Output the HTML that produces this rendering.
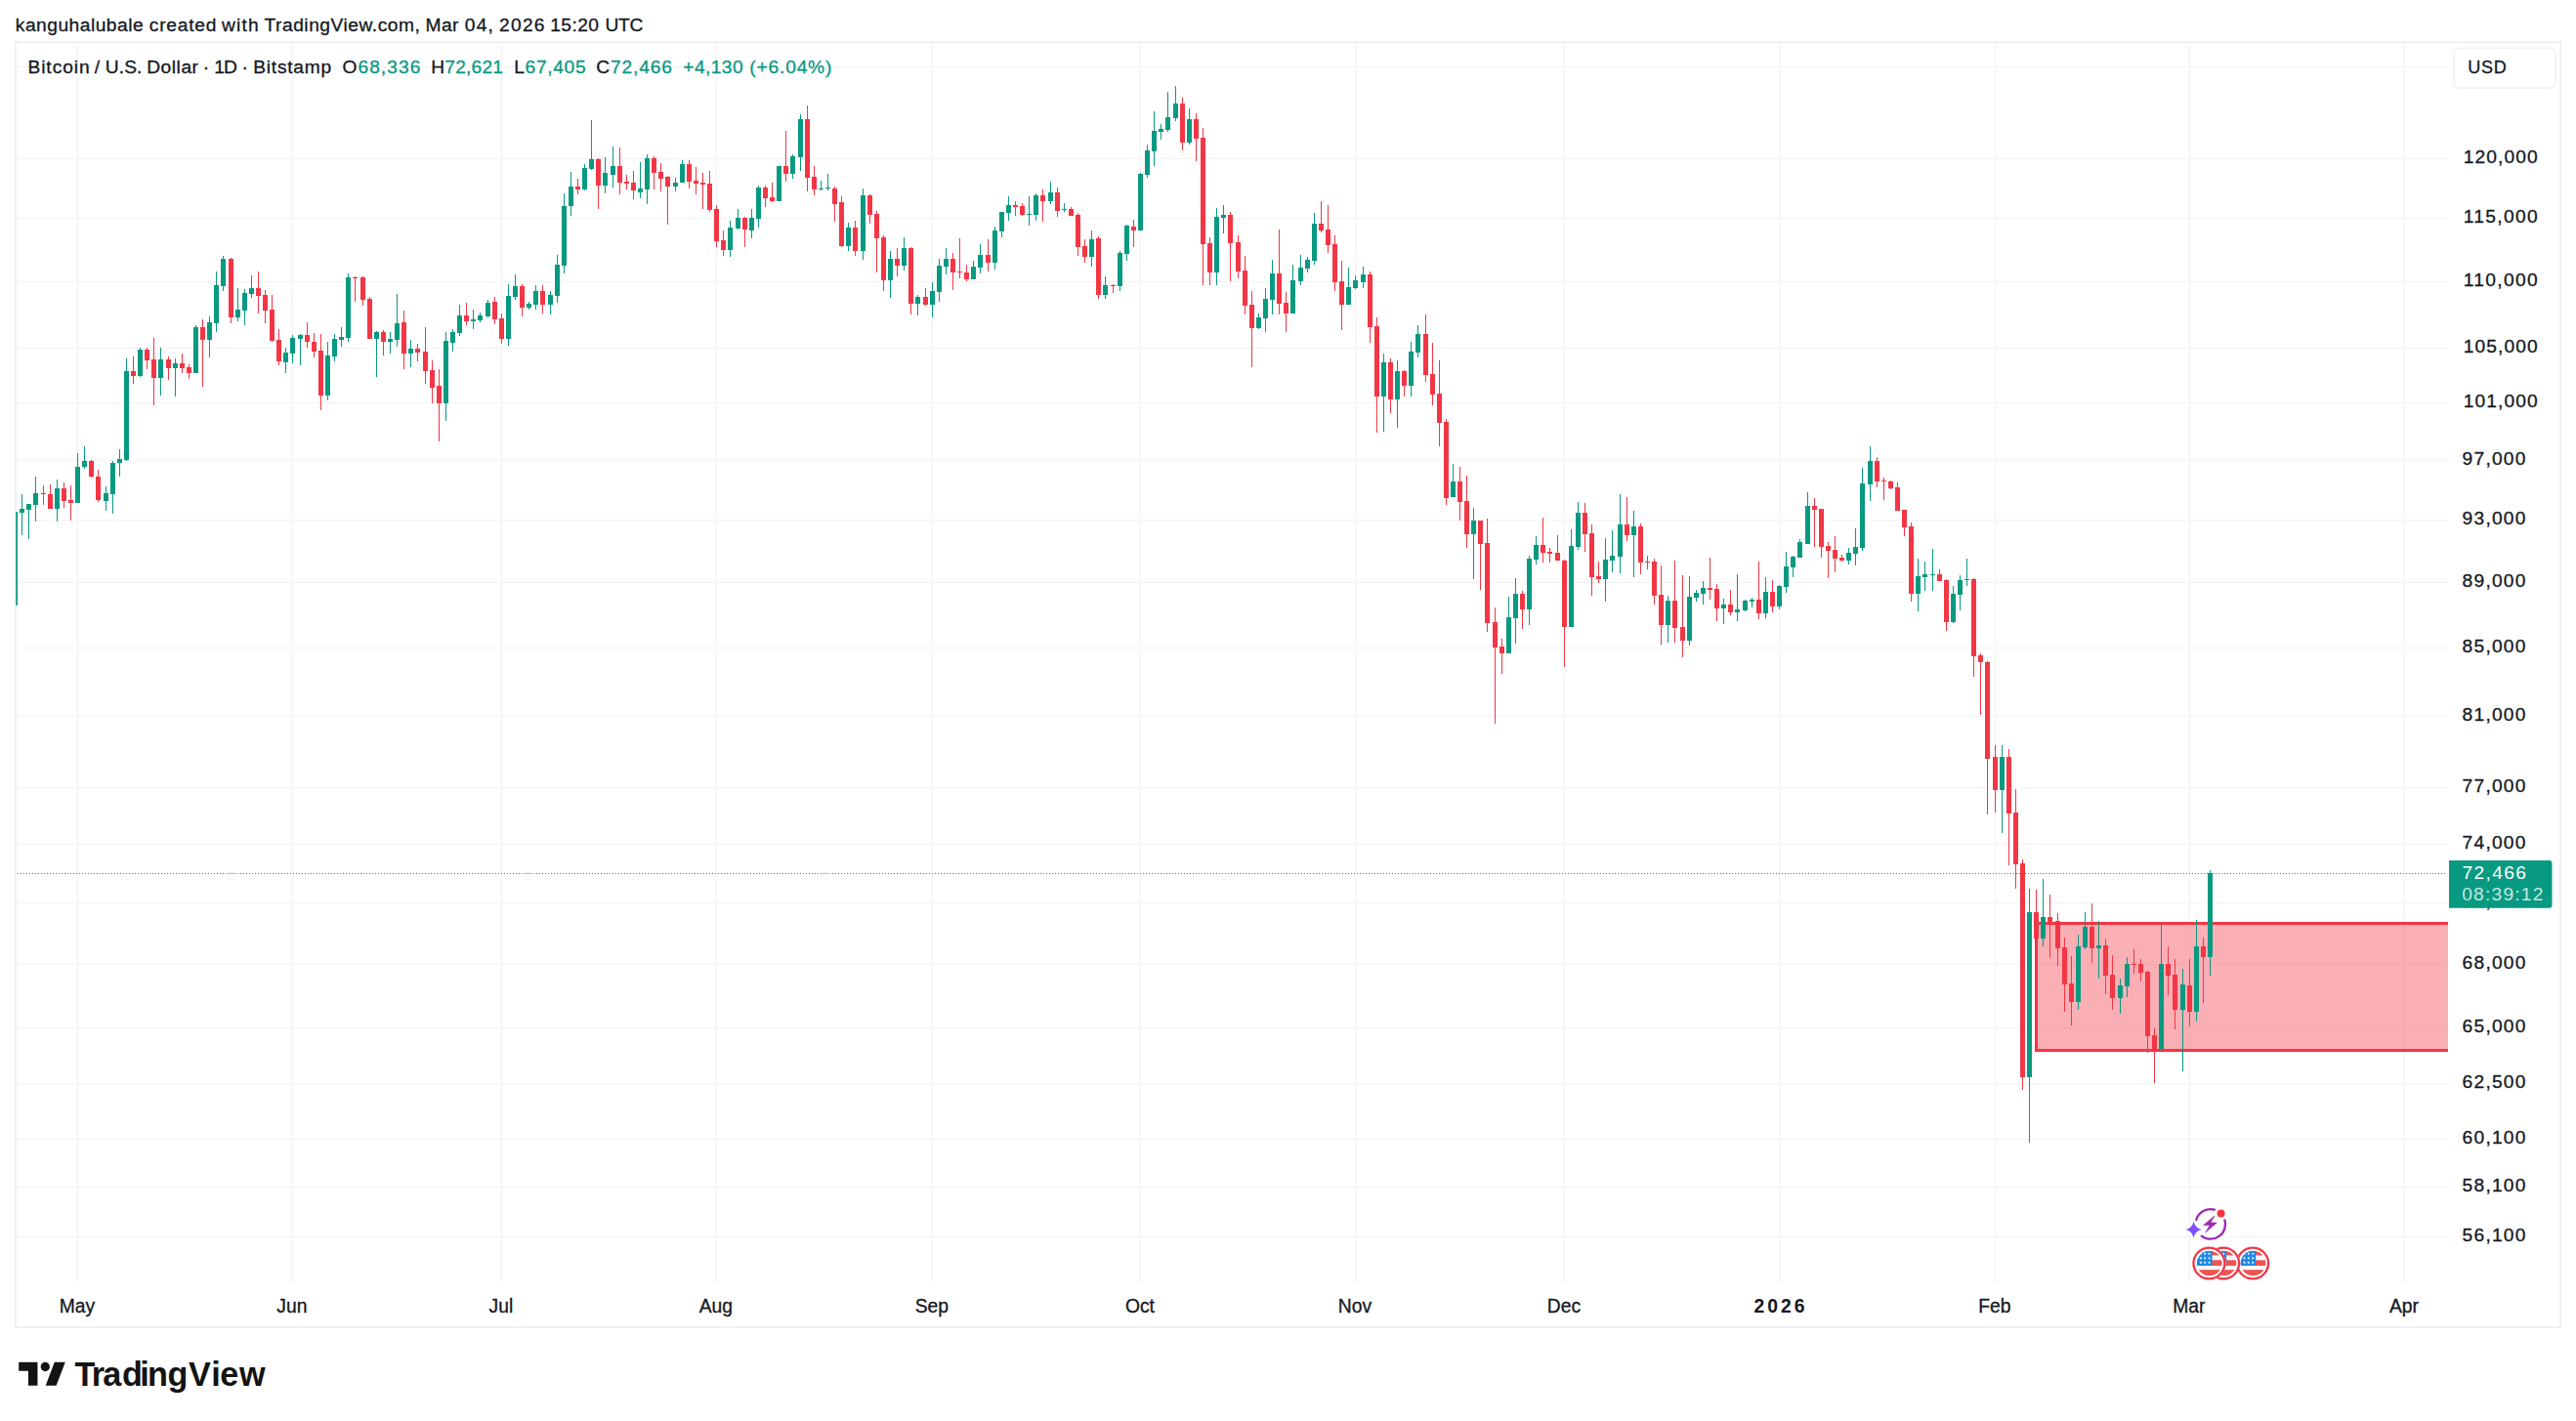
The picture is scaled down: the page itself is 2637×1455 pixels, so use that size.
<!DOCTYPE html><html><head><meta charset="utf-8"><title>BTCUSD chart</title>
<style>html,body{margin:0;padding:0;background:#fff}body{width:2637px;height:1455px;overflow:hidden}svg{display:block}text{font-family:"Liberation Sans",Arial,sans-serif;paint-order:stroke}</style></head><body>
<svg width="2637" height="1455" viewBox="0 0 2637 1455">
<rect width="2637" height="1455" fill="#fff"/>
<defs><clipPath id="pane"><rect x="16.25" y="44.00" width="2489.75" height="1269.50"/></clipPath></defs>
<rect x="16" y="43.25" width="2605.10" height="1315.65" fill="none" stroke="#efeff1" stroke-width="1.8"/>
<g shape-rendering="crispEdges" fill="#f2f2f3">
<rect x="17" y="68" width="2489" height="1"/>
<rect x="17" y="162" width="2489" height="1"/>
<rect x="17" y="223" width="2489" height="1"/>
<rect x="17" y="288" width="2489" height="1"/>
<rect x="17" y="356" width="2489" height="1"/>
<rect x="17" y="412" width="2489" height="1"/>
<rect x="17" y="471" width="2489" height="1"/>
<rect x="17" y="532" width="2489" height="1"/>
<rect x="17" y="596" width="2489" height="1"/>
<rect x="17" y="663" width="2489" height="1"/>
<rect x="17" y="733" width="2489" height="1"/>
<rect x="17" y="806" width="2489" height="1"/>
<rect x="17" y="864" width="2489" height="1"/>
<rect x="17" y="924" width="2489" height="1"/>
<rect x="17" y="987" width="2489" height="1"/>
<rect x="17" y="1052" width="2489" height="1"/>
<rect x="17" y="1109" width="2489" height="1"/>
<rect x="17" y="1166" width="2489" height="1"/>
<rect x="17" y="1215" width="2489" height="1"/>
<rect x="17" y="1266" width="2489" height="1"/>
<rect x="79" y="44" width="1" height="1270"/>
<rect x="299" y="44" width="1" height="1270"/>
<rect x="513" y="44" width="1" height="1270"/>
<rect x="733" y="44" width="1" height="1270"/>
<rect x="954" y="44" width="1" height="1270"/>
<rect x="1167" y="44" width="1" height="1270"/>
<rect x="1387" y="44" width="1" height="1270"/>
<rect x="1601" y="44" width="1" height="1270"/>
<rect x="1821" y="44" width="1" height="1270"/>
<rect x="2042" y="44" width="1" height="1270"/>
<rect x="2241" y="44" width="1" height="1270"/>
<rect x="2461" y="44" width="1" height="1270"/>
</g>
<g clip-path="url(#pane)" shape-rendering="crispEdges">
<rect x="2083" y="944" width="430" height="133" fill="rgba(242,54,69,0.4)"/>
<rect x="2083" y="944" width="430" height="3" fill="#F23645"/>
<rect x="2083" y="1074" width="430" height="3" fill="#F23645"/>
<rect x="2083" y="944" width="3" height="133" fill="#F23645"/>
<g fill="#089981"><rect x="15" y="524" width="1" height="96"/><rect x="13" y="524" width="5" height="96"/><rect x="22" y="506" width="1" height="42"/><rect x="20" y="521" width="5" height="4"/><rect x="29" y="516" width="1" height="36"/><rect x="27" y="516" width="5" height="6"/><rect x="36" y="488" width="1" height="46"/><rect x="34" y="505" width="5" height="12"/><rect x="58" y="491" width="1" height="43"/><rect x="56" y="500" width="5" height="21"/><rect x="79" y="464" width="1" height="51"/><rect x="77" y="478" width="5" height="37"/><rect x="86" y="457" width="1" height="23"/><rect x="84" y="472" width="5" height="6"/><rect x="108" y="498" width="1" height="25"/><rect x="106" y="505" width="5" height="8"/><rect x="115" y="472" width="1" height="54"/><rect x="113" y="474" width="5" height="32"/><rect x="122" y="460" width="1" height="28"/><rect x="120" y="470" width="5" height="4"/><rect x="129" y="367" width="1" height="105"/><rect x="127" y="380" width="5" height="91"/><rect x="143" y="356" width="1" height="30"/><rect x="141" y="358" width="5" height="27"/><rect x="164" y="356" width="1" height="49"/><rect x="162" y="368" width="5" height="19"/><rect x="179" y="367" width="1" height="39"/><rect x="177" y="372" width="5" height="5"/><rect x="200" y="333" width="1" height="49"/><rect x="198" y="335" width="5" height="47"/><rect x="214" y="324" width="1" height="42"/><rect x="212" y="330" width="5" height="18"/><rect x="221" y="278" width="1" height="62"/><rect x="219" y="292" width="5" height="39"/><rect x="228" y="262" width="1" height="36"/><rect x="226" y="265" width="5" height="28"/><rect x="243" y="295" width="1" height="34"/><rect x="241" y="317" width="5" height="8"/><rect x="250" y="296" width="1" height="37"/><rect x="248" y="300" width="5" height="18"/><rect x="257" y="282" width="1" height="23"/><rect x="255" y="295" width="5" height="6"/><rect x="292" y="356" width="1" height="26"/><rect x="290" y="361" width="5" height="10"/><rect x="299" y="343" width="1" height="29"/><rect x="297" y="346" width="5" height="16"/><rect x="307" y="342" width="1" height="32"/><rect x="305" y="343" width="5" height="4"/><rect x="335" y="350" width="1" height="60"/><rect x="333" y="364" width="5" height="41"/><rect x="342" y="342" width="1" height="28"/><rect x="340" y="347" width="5" height="18"/><rect x="349" y="335" width="1" height="20"/><rect x="347" y="345" width="5" height="3"/><rect x="356" y="280" width="1" height="70"/><rect x="354" y="284" width="5" height="62"/><rect x="385" y="339" width="1" height="47"/><rect x="383" y="340" width="5" height="7"/><rect x="399" y="340" width="1" height="22"/><rect x="397" y="347" width="5" height="3"/><rect x="406" y="301" width="1" height="54"/><rect x="404" y="331" width="5" height="17"/><rect x="420" y="348" width="1" height="28"/><rect x="418" y="357" width="5" height="5"/><rect x="456" y="340" width="1" height="91"/><rect x="454" y="349" width="5" height="64"/><rect x="463" y="337" width="1" height="23"/><rect x="461" y="340" width="5" height="11"/><rect x="470" y="312" width="1" height="32"/><rect x="468" y="323" width="5" height="18"/><rect x="484" y="317" width="1" height="20"/><rect x="482" y="327" width="5" height="2"/><rect x="491" y="320" width="1" height="10"/><rect x="489" y="323" width="5" height="5"/><rect x="499" y="307" width="1" height="18"/><rect x="497" y="310" width="5" height="14"/><rect x="520" y="291" width="1" height="63"/><rect x="518" y="303" width="5" height="44"/><rect x="527" y="281" width="1" height="26"/><rect x="525" y="293" width="5" height="11"/><rect x="541" y="309" width="1" height="8"/><rect x="539" y="311" width="5" height="4"/><rect x="548" y="292" width="1" height="25"/><rect x="546" y="298" width="5" height="14"/><rect x="563" y="298" width="1" height="24"/><rect x="561" y="302" width="5" height="10"/><rect x="570" y="261" width="1" height="49"/><rect x="568" y="271" width="5" height="32"/><rect x="577" y="198" width="1" height="82"/><rect x="575" y="211" width="5" height="61"/><rect x="584" y="176" width="1" height="45"/><rect x="582" y="191" width="5" height="20"/><rect x="598" y="168" width="1" height="27"/><rect x="596" y="172" width="5" height="22"/><rect x="605" y="123" width="1" height="51"/><rect x="603" y="163" width="5" height="10"/><rect x="619" y="161" width="1" height="37"/><rect x="617" y="177" width="5" height="13"/><rect x="627" y="150" width="1" height="42"/><rect x="625" y="170" width="5" height="9"/><rect x="655" y="166" width="1" height="37"/><rect x="653" y="193" width="5" height="4"/><rect x="662" y="158" width="1" height="51"/><rect x="660" y="162" width="5" height="32"/><rect x="691" y="182" width="1" height="14"/><rect x="689" y="187" width="5" height="4"/><rect x="698" y="164" width="1" height="23"/><rect x="696" y="168" width="5" height="19"/><rect x="747" y="226" width="1" height="37"/><rect x="745" y="233" width="5" height="23"/><rect x="755" y="214" width="1" height="21"/><rect x="753" y="223" width="5" height="11"/><rect x="769" y="214" width="1" height="30"/><rect x="767" y="223" width="5" height="13"/><rect x="776" y="190" width="1" height="43"/><rect x="774" y="192" width="5" height="32"/><rect x="797" y="170" width="1" height="36"/><rect x="795" y="170" width="5" height="36"/><rect x="811" y="158" width="1" height="25"/><rect x="809" y="160" width="5" height="18"/><rect x="819" y="117" width="1" height="58"/><rect x="817" y="122" width="5" height="39"/><rect x="840" y="185" width="1" height="10"/><rect x="838" y="193" width="5" height="1"/><rect x="847" y="178" width="1" height="17"/><rect x="845" y="192" width="5" height="1"/><rect x="868" y="228" width="1" height="29"/><rect x="866" y="233" width="5" height="19"/><rect x="883" y="193" width="1" height="73"/><rect x="881" y="200" width="5" height="57"/><rect x="911" y="257" width="1" height="48"/><rect x="909" y="265" width="5" height="22"/><rect x="925" y="243" width="1" height="34"/><rect x="923" y="254" width="5" height="18"/><rect x="939" y="302" width="1" height="21"/><rect x="937" y="304" width="5" height="7"/><rect x="954" y="289" width="1" height="36"/><rect x="952" y="298" width="5" height="14"/><rect x="961" y="265" width="1" height="44"/><rect x="959" y="272" width="5" height="27"/><rect x="968" y="254" width="1" height="27"/><rect x="966" y="265" width="5" height="8"/><rect x="996" y="267" width="1" height="19"/><rect x="994" y="273" width="5" height="13"/><rect x="1003" y="250" width="1" height="30"/><rect x="1001" y="261" width="5" height="13"/><rect x="1018" y="232" width="1" height="44"/><rect x="1016" y="236" width="5" height="33"/><rect x="1025" y="217" width="1" height="26"/><rect x="1023" y="217" width="5" height="20"/><rect x="1032" y="201" width="1" height="25"/><rect x="1030" y="210" width="5" height="8"/><rect x="1053" y="201" width="1" height="30"/><rect x="1051" y="219" width="5" height="1"/><rect x="1060" y="198" width="1" height="28"/><rect x="1058" y="200" width="5" height="20"/><rect x="1075" y="186" width="1" height="23"/><rect x="1073" y="197" width="5" height="9"/><rect x="1089" y="208" width="1" height="9"/><rect x="1087" y="214" width="5" height="1"/><rect x="1117" y="236" width="1" height="37"/><rect x="1115" y="245" width="5" height="18"/><rect x="1131" y="283" width="1" height="23"/><rect x="1129" y="292" width="5" height="10"/><rect x="1146" y="257" width="1" height="41"/><rect x="1144" y="259" width="5" height="34"/><rect x="1153" y="230" width="1" height="37"/><rect x="1151" y="231" width="5" height="29"/><rect x="1167" y="177" width="1" height="59"/><rect x="1165" y="178" width="5" height="58"/><rect x="1174" y="148" width="1" height="34"/><rect x="1172" y="154" width="5" height="25"/><rect x="1181" y="114" width="1" height="56"/><rect x="1179" y="134" width="5" height="21"/><rect x="1188" y="127" width="1" height="16"/><rect x="1186" y="132" width="5" height="3"/><rect x="1195" y="94" width="1" height="41"/><rect x="1193" y="120" width="5" height="13"/><rect x="1203" y="88" width="1" height="36"/><rect x="1201" y="106" width="5" height="15"/><rect x="1217" y="111" width="1" height="37"/><rect x="1215" y="122" width="5" height="24"/><rect x="1245" y="213" width="1" height="79"/><rect x="1243" y="222" width="5" height="57"/><rect x="1252" y="210" width="1" height="29"/><rect x="1250" y="220" width="5" height="3"/><rect x="1288" y="321" width="1" height="16"/><rect x="1286" y="325" width="5" height="11"/><rect x="1295" y="295" width="1" height="45"/><rect x="1293" y="306" width="5" height="20"/><rect x="1302" y="266" width="1" height="56"/><rect x="1300" y="280" width="5" height="27"/><rect x="1323" y="271" width="1" height="50"/><rect x="1321" y="287" width="5" height="34"/><rect x="1331" y="261" width="1" height="31"/><rect x="1329" y="274" width="5" height="14"/><rect x="1338" y="263" width="1" height="16"/><rect x="1336" y="266" width="5" height="9"/><rect x="1345" y="218" width="1" height="53"/><rect x="1343" y="229" width="5" height="38"/><rect x="1380" y="274" width="1" height="38"/><rect x="1378" y="294" width="5" height="18"/><rect x="1387" y="282" width="1" height="14"/><rect x="1385" y="287" width="5" height="8"/><rect x="1395" y="273" width="1" height="22"/><rect x="1393" y="281" width="5" height="8"/><rect x="1416" y="362" width="1" height="80"/><rect x="1414" y="371" width="5" height="35"/><rect x="1430" y="369" width="1" height="69"/><rect x="1428" y="380" width="5" height="29"/><rect x="1444" y="350" width="1" height="56"/><rect x="1442" y="360" width="5" height="35"/><rect x="1451" y="333" width="1" height="33"/><rect x="1449" y="342" width="5" height="19"/><rect x="1487" y="475" width="1" height="34"/><rect x="1485" y="493" width="5" height="16"/><rect x="1508" y="520" width="1" height="73"/><rect x="1506" y="533" width="5" height="14"/><rect x="1544" y="611" width="1" height="58"/><rect x="1542" y="632" width="5" height="37"/><rect x="1551" y="592" width="1" height="67"/><rect x="1549" y="608" width="5" height="25"/><rect x="1565" y="569" width="1" height="71"/><rect x="1563" y="572" width="5" height="52"/><rect x="1572" y="549" width="1" height="29"/><rect x="1570" y="558" width="5" height="15"/><rect x="1608" y="542" width="1" height="100"/><rect x="1606" y="559" width="5" height="83"/><rect x="1615" y="514" width="1" height="49"/><rect x="1613" y="525" width="5" height="35"/><rect x="1643" y="551" width="1" height="65"/><rect x="1641" y="573" width="5" height="20"/><rect x="1650" y="543" width="1" height="43"/><rect x="1648" y="569" width="5" height="5"/><rect x="1658" y="506" width="1" height="81"/><rect x="1656" y="537" width="5" height="33"/><rect x="1672" y="523" width="1" height="68"/><rect x="1670" y="539" width="5" height="9"/><rect x="1707" y="610" width="1" height="48"/><rect x="1705" y="615" width="5" height="25"/><rect x="1729" y="590" width="1" height="71"/><rect x="1727" y="611" width="5" height="45"/><rect x="1736" y="604" width="1" height="12"/><rect x="1734" y="607" width="5" height="5"/><rect x="1743" y="595" width="1" height="24"/><rect x="1741" y="602" width="5" height="6"/><rect x="1764" y="613" width="1" height="26"/><rect x="1762" y="619" width="5" height="4"/><rect x="1778" y="588" width="1" height="48"/><rect x="1776" y="624" width="5" height="3"/><rect x="1786" y="614" width="1" height="12"/><rect x="1784" y="615" width="5" height="10"/><rect x="1793" y="612" width="1" height="10"/><rect x="1791" y="614" width="5" height="2"/><rect x="1807" y="591" width="1" height="42"/><rect x="1805" y="606" width="5" height="22"/><rect x="1821" y="599" width="1" height="25"/><rect x="1819" y="600" width="5" height="21"/><rect x="1828" y="565" width="1" height="42"/><rect x="1826" y="580" width="5" height="21"/><rect x="1835" y="569" width="1" height="22"/><rect x="1833" y="570" width="5" height="11"/><rect x="1842" y="552" width="1" height="19"/><rect x="1840" y="555" width="5" height="16"/><rect x="1850" y="504" width="1" height="53"/><rect x="1848" y="518" width="5" height="39"/><rect x="1892" y="561" width="1" height="17"/><rect x="1890" y="566" width="5" height="8"/><rect x="1899" y="541" width="1" height="38"/><rect x="1897" y="560" width="5" height="7"/><rect x="1906" y="479" width="1" height="85"/><rect x="1904" y="495" width="5" height="66"/><rect x="1914" y="457" width="1" height="56"/><rect x="1912" y="472" width="5" height="24"/><rect x="1963" y="572" width="1" height="54"/><rect x="1961" y="590" width="5" height="18"/><rect x="1970" y="575" width="1" height="30"/><rect x="1968" y="588" width="5" height="3"/><rect x="1978" y="562" width="1" height="43"/><rect x="1976" y="588" width="5" height="1"/><rect x="1999" y="600" width="1" height="38"/><rect x="1997" y="608" width="5" height="29"/><rect x="2006" y="589" width="1" height="36"/><rect x="2004" y="594" width="5" height="15"/><rect x="2013" y="572" width="1" height="28"/><rect x="2011" y="593" width="5" height="1"/><rect x="2049" y="763" width="1" height="90"/><rect x="2047" y="775" width="5" height="34"/><rect x="2077" y="910" width="1" height="260"/><rect x="2075" y="934" width="5" height="169"/><rect x="2091" y="900" width="1" height="69"/><rect x="2089" y="939" width="5" height="22"/><rect x="2127" y="957" width="1" height="77"/><rect x="2125" y="969" width="5" height="57"/><rect x="2134" y="934" width="1" height="38"/><rect x="2132" y="949" width="5" height="21"/><rect x="2148" y="943" width="1" height="59"/><rect x="2146" y="968" width="5" height="3"/><rect x="2170" y="1002" width="1" height="36"/><rect x="2168" y="1009" width="5" height="13"/><rect x="2177" y="980" width="1" height="41"/><rect x="2175" y="987" width="5" height="23"/><rect x="2212" y="944" width="1" height="133"/><rect x="2210" y="987" width="5" height="87"/><rect x="2234" y="992" width="1" height="105"/><rect x="2232" y="1008" width="5" height="26"/><rect x="2248" y="942" width="1" height="104"/><rect x="2246" y="969" width="5" height="67"/><rect x="2262" y="891" width="1" height="108"/><rect x="2260" y="894" width="5" height="86"/></g>
<g fill="#F23645"><rect x="44" y="497" width="1" height="20"/><rect x="42" y="505" width="5" height="1"/><rect x="51" y="496" width="1" height="25"/><rect x="49" y="506" width="5" height="15"/><rect x="65" y="494" width="1" height="26"/><rect x="63" y="500" width="5" height="13"/><rect x="72" y="497" width="1" height="36"/><rect x="70" y="512" width="5" height="3"/><rect x="93" y="471" width="1" height="18"/><rect x="91" y="472" width="5" height="16"/><rect x="100" y="481" width="1" height="33"/><rect x="98" y="488" width="5" height="24"/><rect x="136" y="365" width="1" height="28"/><rect x="134" y="380" width="5" height="5"/><rect x="150" y="356" width="1" height="22"/><rect x="148" y="358" width="5" height="11"/><rect x="157" y="346" width="1" height="69"/><rect x="155" y="368" width="5" height="19"/><rect x="172" y="365" width="1" height="24"/><rect x="170" y="368" width="5" height="9"/><rect x="186" y="362" width="1" height="20"/><rect x="184" y="372" width="5" height="5"/><rect x="193" y="373" width="1" height="15"/><rect x="191" y="376" width="5" height="6"/><rect x="207" y="327" width="1" height="69"/><rect x="205" y="335" width="5" height="13"/><rect x="236" y="264" width="1" height="67"/><rect x="234" y="265" width="5" height="60"/><rect x="264" y="278" width="1" height="43"/><rect x="262" y="295" width="5" height="8"/><rect x="271" y="297" width="1" height="34"/><rect x="269" y="302" width="5" height="16"/><rect x="278" y="302" width="1" height="48"/><rect x="276" y="317" width="5" height="32"/><rect x="285" y="337" width="1" height="37"/><rect x="283" y="348" width="5" height="22"/><rect x="314" y="330" width="1" height="26"/><rect x="312" y="343" width="5" height="7"/><rect x="321" y="341" width="1" height="25"/><rect x="319" y="350" width="5" height="10"/><rect x="328" y="342" width="1" height="78"/><rect x="326" y="359" width="5" height="46"/><rect x="363" y="283" width="1" height="26"/><rect x="361" y="284" width="5" height="1"/><rect x="371" y="283" width="1" height="30"/><rect x="369" y="284" width="5" height="23"/><rect x="378" y="304" width="1" height="43"/><rect x="376" y="306" width="5" height="41"/><rect x="392" y="338" width="1" height="26"/><rect x="390" y="340" width="5" height="10"/><rect x="413" y="318" width="1" height="60"/><rect x="411" y="330" width="5" height="32"/><rect x="427" y="352" width="1" height="18"/><rect x="425" y="357" width="5" height="4"/><rect x="435" y="335" width="1" height="58"/><rect x="433" y="360" width="5" height="20"/><rect x="442" y="369" width="1" height="44"/><rect x="440" y="379" width="5" height="18"/><rect x="449" y="378" width="1" height="74"/><rect x="447" y="395" width="5" height="18"/><rect x="477" y="310" width="1" height="23"/><rect x="475" y="323" width="5" height="6"/><rect x="506" y="304" width="1" height="28"/><rect x="504" y="309" width="5" height="18"/><rect x="513" y="321" width="1" height="31"/><rect x="511" y="326" width="5" height="21"/><rect x="534" y="291" width="1" height="33"/><rect x="532" y="293" width="5" height="22"/><rect x="555" y="292" width="1" height="29"/><rect x="553" y="298" width="5" height="14"/><rect x="591" y="183" width="1" height="16"/><rect x="589" y="191" width="5" height="3"/><rect x="612" y="162" width="1" height="52"/><rect x="610" y="163" width="5" height="27"/><rect x="634" y="151" width="1" height="48"/><rect x="632" y="170" width="5" height="17"/><rect x="641" y="179" width="1" height="15"/><rect x="639" y="186" width="5" height="2"/><rect x="648" y="175" width="1" height="29"/><rect x="646" y="187" width="5" height="8"/><rect x="669" y="160" width="1" height="34"/><rect x="667" y="162" width="5" height="15"/><rect x="676" y="167" width="1" height="29"/><rect x="674" y="176" width="5" height="7"/><rect x="683" y="180" width="1" height="50"/><rect x="681" y="181" width="5" height="10"/><rect x="705" y="164" width="1" height="29"/><rect x="703" y="168" width="5" height="18"/><rect x="712" y="171" width="1" height="28"/><rect x="710" y="185" width="5" height="3"/><rect x="719" y="177" width="1" height="37"/><rect x="717" y="187" width="5" height="2"/><rect x="726" y="175" width="1" height="42"/><rect x="724" y="188" width="5" height="27"/><rect x="733" y="210" width="1" height="43"/><rect x="731" y="214" width="5" height="33"/><rect x="740" y="236" width="1" height="26"/><rect x="738" y="246" width="5" height="10"/><rect x="762" y="222" width="1" height="31"/><rect x="760" y="223" width="5" height="12"/><rect x="783" y="190" width="1" height="22"/><rect x="781" y="192" width="5" height="11"/><rect x="790" y="187" width="1" height="20"/><rect x="788" y="202" width="5" height="4"/><rect x="804" y="134" width="1" height="52"/><rect x="802" y="170" width="5" height="8"/><rect x="826" y="108" width="1" height="88"/><rect x="824" y="122" width="5" height="60"/><rect x="833" y="170" width="1" height="30"/><rect x="831" y="181" width="5" height="13"/><rect x="854" y="191" width="1" height="36"/><rect x="852" y="193" width="5" height="16"/><rect x="861" y="201" width="1" height="52"/><rect x="859" y="207" width="5" height="45"/><rect x="875" y="226" width="1" height="36"/><rect x="873" y="233" width="5" height="24"/><rect x="890" y="199" width="1" height="30"/><rect x="888" y="200" width="5" height="20"/><rect x="897" y="216" width="1" height="63"/><rect x="895" y="219" width="5" height="25"/><rect x="904" y="241" width="1" height="57"/><rect x="902" y="243" width="5" height="44"/><rect x="918" y="254" width="1" height="29"/><rect x="916" y="265" width="5" height="7"/><rect x="932" y="253" width="1" height="69"/><rect x="930" y="254" width="5" height="57"/><rect x="947" y="295" width="1" height="18"/><rect x="945" y="304" width="5" height="8"/><rect x="975" y="259" width="1" height="38"/><rect x="973" y="265" width="5" height="14"/><rect x="982" y="244" width="1" height="41"/><rect x="980" y="278" width="5" height="1"/><rect x="989" y="271" width="1" height="17"/><rect x="987" y="279" width="5" height="7"/><rect x="1011" y="245" width="1" height="33"/><rect x="1009" y="261" width="5" height="8"/><rect x="1039" y="206" width="1" height="15"/><rect x="1037" y="210" width="5" height="2"/><rect x="1046" y="208" width="1" height="13"/><rect x="1044" y="211" width="5" height="9"/><rect x="1067" y="194" width="1" height="33"/><rect x="1065" y="200" width="5" height="6"/><rect x="1082" y="192" width="1" height="30"/><rect x="1080" y="197" width="5" height="19"/><rect x="1096" y="212" width="1" height="9"/><rect x="1094" y="214" width="5" height="7"/><rect x="1103" y="218" width="1" height="44"/><rect x="1101" y="220" width="5" height="33"/><rect x="1110" y="245" width="1" height="24"/><rect x="1108" y="252" width="5" height="11"/><rect x="1124" y="242" width="1" height="64"/><rect x="1122" y="244" width="5" height="58"/><rect x="1139" y="291" width="1" height="9"/><rect x="1137" y="292" width="5" height="1"/><rect x="1160" y="225" width="1" height="28"/><rect x="1158" y="232" width="5" height="4"/><rect x="1210" y="100" width="1" height="54"/><rect x="1208" y="106" width="5" height="40"/><rect x="1224" y="116" width="1" height="49"/><rect x="1222" y="122" width="5" height="20"/><rect x="1231" y="131" width="1" height="161"/><rect x="1229" y="141" width="5" height="109"/><rect x="1238" y="243" width="1" height="49"/><rect x="1236" y="249" width="5" height="30"/><rect x="1259" y="217" width="1" height="71"/><rect x="1257" y="220" width="5" height="29"/><rect x="1267" y="241" width="1" height="44"/><rect x="1265" y="248" width="5" height="30"/><rect x="1274" y="262" width="1" height="60"/><rect x="1272" y="277" width="5" height="36"/><rect x="1281" y="298" width="1" height="78"/><rect x="1279" y="312" width="5" height="24"/><rect x="1309" y="235" width="1" height="87"/><rect x="1307" y="280" width="5" height="31"/><rect x="1316" y="299" width="1" height="41"/><rect x="1314" y="310" width="5" height="11"/><rect x="1352" y="206" width="1" height="32"/><rect x="1350" y="229" width="5" height="7"/><rect x="1359" y="210" width="1" height="49"/><rect x="1357" y="235" width="5" height="16"/><rect x="1366" y="241" width="1" height="57"/><rect x="1364" y="250" width="5" height="39"/><rect x="1373" y="267" width="1" height="71"/><rect x="1371" y="288" width="5" height="24"/><rect x="1402" y="278" width="1" height="73"/><rect x="1400" y="281" width="5" height="54"/><rect x="1409" y="325" width="1" height="118"/><rect x="1407" y="334" width="5" height="72"/><rect x="1423" y="367" width="1" height="56"/><rect x="1421" y="371" width="5" height="38"/><rect x="1437" y="379" width="1" height="27"/><rect x="1435" y="380" width="5" height="15"/><rect x="1459" y="322" width="1" height="69"/><rect x="1457" y="342" width="5" height="42"/><rect x="1466" y="351" width="1" height="64"/><rect x="1464" y="383" width="5" height="21"/><rect x="1473" y="369" width="1" height="88"/><rect x="1471" y="403" width="5" height="30"/><rect x="1480" y="429" width="1" height="88"/><rect x="1478" y="432" width="5" height="78"/><rect x="1494" y="478" width="1" height="55"/><rect x="1492" y="493" width="5" height="21"/><rect x="1501" y="487" width="1" height="74"/><rect x="1499" y="513" width="5" height="34"/><rect x="1515" y="533" width="1" height="71"/><rect x="1513" y="533" width="5" height="24"/><rect x="1522" y="531" width="1" height="116"/><rect x="1520" y="556" width="5" height="82"/><rect x="1530" y="622" width="1" height="119"/><rect x="1528" y="637" width="5" height="26"/><rect x="1537" y="654" width="1" height="36"/><rect x="1535" y="662" width="5" height="7"/><rect x="1558" y="605" width="1" height="39"/><rect x="1556" y="608" width="5" height="16"/><rect x="1579" y="530" width="1" height="46"/><rect x="1577" y="558" width="5" height="8"/><rect x="1586" y="561" width="1" height="15"/><rect x="1584" y="565" width="5" height="2"/><rect x="1594" y="548" width="1" height="26"/><rect x="1592" y="566" width="5" height="8"/><rect x="1601" y="573" width="1" height="110"/><rect x="1599" y="574" width="5" height="68"/><rect x="1622" y="515" width="1" height="50"/><rect x="1620" y="525" width="5" height="22"/><rect x="1629" y="537" width="1" height="73"/><rect x="1627" y="546" width="5" height="45"/><rect x="1636" y="575" width="1" height="22"/><rect x="1634" y="590" width="5" height="3"/><rect x="1665" y="509" width="1" height="45"/><rect x="1663" y="537" width="5" height="11"/><rect x="1679" y="536" width="1" height="52"/><rect x="1677" y="539" width="5" height="37"/><rect x="1686" y="569" width="1" height="14"/><rect x="1684" y="575" width="5" height="1"/><rect x="1693" y="572" width="1" height="47"/><rect x="1691" y="575" width="5" height="35"/><rect x="1700" y="579" width="1" height="81"/><rect x="1698" y="609" width="5" height="31"/><rect x="1714" y="574" width="1" height="84"/><rect x="1712" y="615" width="5" height="28"/><rect x="1722" y="589" width="1" height="84"/><rect x="1720" y="642" width="5" height="14"/><rect x="1750" y="571" width="1" height="43"/><rect x="1748" y="602" width="5" height="2"/><rect x="1757" y="598" width="1" height="38"/><rect x="1755" y="603" width="5" height="20"/><rect x="1771" y="604" width="1" height="26"/><rect x="1769" y="619" width="5" height="8"/><rect x="1800" y="575" width="1" height="59"/><rect x="1798" y="614" width="5" height="14"/><rect x="1814" y="594" width="1" height="33"/><rect x="1812" y="606" width="5" height="15"/><rect x="1857" y="510" width="1" height="50"/><rect x="1855" y="518" width="5" height="4"/><rect x="1864" y="521" width="1" height="50"/><rect x="1862" y="521" width="5" height="39"/><rect x="1871" y="555" width="1" height="37"/><rect x="1869" y="559" width="5" height="5"/><rect x="1878" y="549" width="1" height="37"/><rect x="1876" y="563" width="5" height="9"/><rect x="1885" y="568" width="1" height="7"/><rect x="1883" y="571" width="5" height="3"/><rect x="1921" y="468" width="1" height="31"/><rect x="1919" y="472" width="5" height="21"/><rect x="1928" y="489" width="1" height="23"/><rect x="1926" y="492" width="5" height="1"/><rect x="1935" y="492" width="1" height="9"/><rect x="1933" y="493" width="5" height="7"/><rect x="1942" y="494" width="1" height="29"/><rect x="1940" y="499" width="5" height="24"/><rect x="1949" y="522" width="1" height="27"/><rect x="1947" y="522" width="5" height="18"/><rect x="1956" y="535" width="1" height="81"/><rect x="1954" y="539" width="5" height="69"/><rect x="1985" y="583" width="1" height="12"/><rect x="1983" y="588" width="5" height="7"/><rect x="1992" y="593" width="1" height="53"/><rect x="1990" y="594" width="5" height="43"/><rect x="2020" y="592" width="1" height="101"/><rect x="2018" y="593" width="5" height="79"/><rect x="2027" y="669" width="1" height="63"/><rect x="2025" y="671" width="5" height="7"/><rect x="2034" y="677" width="1" height="157"/><rect x="2032" y="678" width="5" height="99"/><rect x="2042" y="763" width="1" height="69"/><rect x="2040" y="775" width="5" height="34"/><rect x="2056" y="767" width="1" height="119"/><rect x="2054" y="775" width="5" height="58"/><rect x="2063" y="808" width="1" height="102"/><rect x="2061" y="832" width="5" height="53"/><rect x="2070" y="880" width="1" height="236"/><rect x="2068" y="884" width="5" height="219"/><rect x="2084" y="911" width="1" height="64"/><rect x="2082" y="934" width="5" height="27"/><rect x="2098" y="916" width="1" height="65"/><rect x="2096" y="939" width="5" height="6"/><rect x="2106" y="935" width="1" height="54"/><rect x="2104" y="943" width="5" height="28"/><rect x="2113" y="960" width="1" height="76"/><rect x="2111" y="970" width="5" height="38"/><rect x="2120" y="979" width="1" height="71"/><rect x="2118" y="1007" width="5" height="19"/><rect x="2141" y="925" width="1" height="61"/><rect x="2139" y="949" width="5" height="22"/><rect x="2155" y="961" width="1" height="57"/><rect x="2153" y="968" width="5" height="31"/><rect x="2162" y="978" width="1" height="56"/><rect x="2160" y="998" width="5" height="24"/><rect x="2184" y="972" width="1" height="25"/><rect x="2182" y="987" width="5" height="1"/><rect x="2191" y="982" width="1" height="23"/><rect x="2189" y="987" width="5" height="9"/><rect x="2198" y="994" width="1" height="84"/><rect x="2196" y="995" width="5" height="66"/><rect x="2205" y="1053" width="1" height="56"/><rect x="2203" y="1060" width="5" height="14"/><rect x="2219" y="969" width="1" height="50"/><rect x="2217" y="987" width="5" height="12"/><rect x="2226" y="982" width="1" height="72"/><rect x="2224" y="998" width="5" height="36"/><rect x="2241" y="982" width="1" height="69"/><rect x="2239" y="1009" width="5" height="27"/><rect x="2255" y="960" width="1" height="67"/><rect x="2253" y="969" width="5" height="11"/></g>
<g fill="#089981"><rect x="18" y="894" width="1" height="1"/><rect x="21" y="894" width="1" height="1"/><rect x="24" y="894" width="1" height="1"/><rect x="27" y="894" width="1" height="1"/><rect x="30" y="894" width="1" height="1"/><rect x="33" y="894" width="1" height="1"/><rect x="36" y="894" width="1" height="1"/><rect x="39" y="894" width="1" height="1"/><rect x="42" y="894" width="1" height="1"/><rect x="45" y="894" width="1" height="1"/><rect x="48" y="894" width="1" height="1"/><rect x="51" y="894" width="1" height="1"/><rect x="54" y="894" width="1" height="1"/><rect x="57" y="894" width="1" height="1"/><rect x="60" y="894" width="1" height="1"/><rect x="63" y="894" width="1" height="1"/><rect x="66" y="894" width="1" height="1"/><rect x="69" y="894" width="1" height="1"/><rect x="72" y="894" width="1" height="1"/><rect x="75" y="894" width="1" height="1"/><rect x="78" y="894" width="1" height="1"/><rect x="81" y="894" width="1" height="1"/><rect x="84" y="894" width="1" height="1"/><rect x="87" y="894" width="1" height="1"/><rect x="90" y="894" width="1" height="1"/><rect x="93" y="894" width="1" height="1"/><rect x="96" y="894" width="1" height="1"/><rect x="99" y="894" width="1" height="1"/><rect x="102" y="894" width="1" height="1"/><rect x="105" y="894" width="1" height="1"/><rect x="108" y="894" width="1" height="1"/><rect x="111" y="894" width="1" height="1"/><rect x="114" y="894" width="1" height="1"/><rect x="117" y="894" width="1" height="1"/><rect x="120" y="894" width="1" height="1"/><rect x="123" y="894" width="1" height="1"/><rect x="126" y="894" width="1" height="1"/><rect x="129" y="894" width="1" height="1"/><rect x="132" y="894" width="1" height="1"/><rect x="135" y="894" width="1" height="1"/><rect x="138" y="894" width="1" height="1"/><rect x="141" y="894" width="1" height="1"/><rect x="144" y="894" width="1" height="1"/><rect x="147" y="894" width="1" height="1"/><rect x="150" y="894" width="1" height="1"/><rect x="153" y="894" width="1" height="1"/><rect x="156" y="894" width="1" height="1"/><rect x="159" y="894" width="1" height="1"/><rect x="162" y="894" width="1" height="1"/><rect x="165" y="894" width="1" height="1"/><rect x="168" y="894" width="1" height="1"/><rect x="171" y="894" width="1" height="1"/><rect x="174" y="894" width="1" height="1"/><rect x="177" y="894" width="1" height="1"/><rect x="180" y="894" width="1" height="1"/><rect x="183" y="894" width="1" height="1"/><rect x="186" y="894" width="1" height="1"/><rect x="189" y="894" width="1" height="1"/><rect x="192" y="894" width="1" height="1"/><rect x="195" y="894" width="1" height="1"/><rect x="198" y="894" width="1" height="1"/><rect x="201" y="894" width="1" height="1"/><rect x="204" y="894" width="1" height="1"/><rect x="207" y="894" width="1" height="1"/><rect x="210" y="894" width="1" height="1"/><rect x="213" y="894" width="1" height="1"/><rect x="216" y="894" width="1" height="1"/><rect x="219" y="894" width="1" height="1"/><rect x="222" y="894" width="1" height="1"/><rect x="225" y="894" width="1" height="1"/><rect x="228" y="894" width="1" height="1"/><rect x="231" y="894" width="1" height="1"/><rect x="234" y="894" width="1" height="1"/><rect x="237" y="894" width="1" height="1"/><rect x="240" y="894" width="1" height="1"/><rect x="243" y="894" width="1" height="1"/><rect x="246" y="894" width="1" height="1"/><rect x="249" y="894" width="1" height="1"/><rect x="252" y="894" width="1" height="1"/><rect x="255" y="894" width="1" height="1"/><rect x="258" y="894" width="1" height="1"/><rect x="261" y="894" width="1" height="1"/><rect x="264" y="894" width="1" height="1"/><rect x="267" y="894" width="1" height="1"/><rect x="270" y="894" width="1" height="1"/><rect x="273" y="894" width="1" height="1"/><rect x="276" y="894" width="1" height="1"/><rect x="279" y="894" width="1" height="1"/><rect x="282" y="894" width="1" height="1"/><rect x="285" y="894" width="1" height="1"/><rect x="288" y="894" width="1" height="1"/><rect x="291" y="894" width="1" height="1"/><rect x="294" y="894" width="1" height="1"/><rect x="297" y="894" width="1" height="1"/><rect x="300" y="894" width="1" height="1"/><rect x="303" y="894" width="1" height="1"/><rect x="306" y="894" width="1" height="1"/><rect x="309" y="894" width="1" height="1"/><rect x="312" y="894" width="1" height="1"/><rect x="315" y="894" width="1" height="1"/><rect x="318" y="894" width="1" height="1"/><rect x="321" y="894" width="1" height="1"/><rect x="324" y="894" width="1" height="1"/><rect x="327" y="894" width="1" height="1"/><rect x="330" y="894" width="1" height="1"/><rect x="333" y="894" width="1" height="1"/><rect x="336" y="894" width="1" height="1"/><rect x="339" y="894" width="1" height="1"/><rect x="342" y="894" width="1" height="1"/><rect x="345" y="894" width="1" height="1"/><rect x="348" y="894" width="1" height="1"/><rect x="351" y="894" width="1" height="1"/><rect x="354" y="894" width="1" height="1"/><rect x="357" y="894" width="1" height="1"/><rect x="360" y="894" width="1" height="1"/><rect x="363" y="894" width="1" height="1"/><rect x="366" y="894" width="1" height="1"/><rect x="369" y="894" width="1" height="1"/><rect x="372" y="894" width="1" height="1"/><rect x="375" y="894" width="1" height="1"/><rect x="378" y="894" width="1" height="1"/><rect x="381" y="894" width="1" height="1"/><rect x="384" y="894" width="1" height="1"/><rect x="387" y="894" width="1" height="1"/><rect x="390" y="894" width="1" height="1"/><rect x="393" y="894" width="1" height="1"/><rect x="396" y="894" width="1" height="1"/><rect x="399" y="894" width="1" height="1"/><rect x="402" y="894" width="1" height="1"/><rect x="405" y="894" width="1" height="1"/><rect x="408" y="894" width="1" height="1"/><rect x="411" y="894" width="1" height="1"/><rect x="414" y="894" width="1" height="1"/><rect x="417" y="894" width="1" height="1"/><rect x="420" y="894" width="1" height="1"/><rect x="423" y="894" width="1" height="1"/><rect x="426" y="894" width="1" height="1"/><rect x="429" y="894" width="1" height="1"/><rect x="432" y="894" width="1" height="1"/><rect x="435" y="894" width="1" height="1"/><rect x="438" y="894" width="1" height="1"/><rect x="441" y="894" width="1" height="1"/><rect x="444" y="894" width="1" height="1"/><rect x="447" y="894" width="1" height="1"/><rect x="450" y="894" width="1" height="1"/><rect x="453" y="894" width="1" height="1"/><rect x="456" y="894" width="1" height="1"/><rect x="459" y="894" width="1" height="1"/><rect x="462" y="894" width="1" height="1"/><rect x="465" y="894" width="1" height="1"/><rect x="468" y="894" width="1" height="1"/><rect x="471" y="894" width="1" height="1"/><rect x="474" y="894" width="1" height="1"/><rect x="477" y="894" width="1" height="1"/><rect x="480" y="894" width="1" height="1"/><rect x="483" y="894" width="1" height="1"/><rect x="486" y="894" width="1" height="1"/><rect x="489" y="894" width="1" height="1"/><rect x="492" y="894" width="1" height="1"/><rect x="495" y="894" width="1" height="1"/><rect x="498" y="894" width="1" height="1"/><rect x="501" y="894" width="1" height="1"/><rect x="504" y="894" width="1" height="1"/><rect x="507" y="894" width="1" height="1"/><rect x="510" y="894" width="1" height="1"/><rect x="513" y="894" width="1" height="1"/><rect x="516" y="894" width="1" height="1"/><rect x="519" y="894" width="1" height="1"/><rect x="522" y="894" width="1" height="1"/><rect x="525" y="894" width="1" height="1"/><rect x="528" y="894" width="1" height="1"/><rect x="531" y="894" width="1" height="1"/><rect x="534" y="894" width="1" height="1"/><rect x="537" y="894" width="1" height="1"/><rect x="540" y="894" width="1" height="1"/><rect x="543" y="894" width="1" height="1"/><rect x="546" y="894" width="1" height="1"/><rect x="549" y="894" width="1" height="1"/><rect x="552" y="894" width="1" height="1"/><rect x="555" y="894" width="1" height="1"/><rect x="558" y="894" width="1" height="1"/><rect x="561" y="894" width="1" height="1"/><rect x="564" y="894" width="1" height="1"/><rect x="567" y="894" width="1" height="1"/><rect x="570" y="894" width="1" height="1"/><rect x="573" y="894" width="1" height="1"/><rect x="576" y="894" width="1" height="1"/><rect x="579" y="894" width="1" height="1"/><rect x="582" y="894" width="1" height="1"/><rect x="585" y="894" width="1" height="1"/><rect x="588" y="894" width="1" height="1"/><rect x="591" y="894" width="1" height="1"/><rect x="594" y="894" width="1" height="1"/><rect x="597" y="894" width="1" height="1"/><rect x="600" y="894" width="1" height="1"/><rect x="603" y="894" width="1" height="1"/><rect x="606" y="894" width="1" height="1"/><rect x="609" y="894" width="1" height="1"/><rect x="612" y="894" width="1" height="1"/><rect x="615" y="894" width="1" height="1"/><rect x="618" y="894" width="1" height="1"/><rect x="621" y="894" width="1" height="1"/><rect x="624" y="894" width="1" height="1"/><rect x="627" y="894" width="1" height="1"/><rect x="630" y="894" width="1" height="1"/><rect x="633" y="894" width="1" height="1"/><rect x="636" y="894" width="1" height="1"/><rect x="639" y="894" width="1" height="1"/><rect x="642" y="894" width="1" height="1"/><rect x="645" y="894" width="1" height="1"/><rect x="648" y="894" width="1" height="1"/><rect x="651" y="894" width="1" height="1"/><rect x="654" y="894" width="1" height="1"/><rect x="657" y="894" width="1" height="1"/><rect x="660" y="894" width="1" height="1"/><rect x="663" y="894" width="1" height="1"/><rect x="666" y="894" width="1" height="1"/><rect x="669" y="894" width="1" height="1"/><rect x="672" y="894" width="1" height="1"/><rect x="675" y="894" width="1" height="1"/><rect x="678" y="894" width="1" height="1"/><rect x="681" y="894" width="1" height="1"/><rect x="684" y="894" width="1" height="1"/><rect x="687" y="894" width="1" height="1"/><rect x="690" y="894" width="1" height="1"/><rect x="693" y="894" width="1" height="1"/><rect x="696" y="894" width="1" height="1"/><rect x="699" y="894" width="1" height="1"/><rect x="702" y="894" width="1" height="1"/><rect x="705" y="894" width="1" height="1"/><rect x="708" y="894" width="1" height="1"/><rect x="711" y="894" width="1" height="1"/><rect x="714" y="894" width="1" height="1"/><rect x="717" y="894" width="1" height="1"/><rect x="720" y="894" width="1" height="1"/><rect x="723" y="894" width="1" height="1"/><rect x="726" y="894" width="1" height="1"/><rect x="729" y="894" width="1" height="1"/><rect x="732" y="894" width="1" height="1"/><rect x="735" y="894" width="1" height="1"/><rect x="738" y="894" width="1" height="1"/><rect x="741" y="894" width="1" height="1"/><rect x="744" y="894" width="1" height="1"/><rect x="747" y="894" width="1" height="1"/><rect x="750" y="894" width="1" height="1"/><rect x="753" y="894" width="1" height="1"/><rect x="756" y="894" width="1" height="1"/><rect x="759" y="894" width="1" height="1"/><rect x="762" y="894" width="1" height="1"/><rect x="765" y="894" width="1" height="1"/><rect x="768" y="894" width="1" height="1"/><rect x="771" y="894" width="1" height="1"/><rect x="774" y="894" width="1" height="1"/><rect x="777" y="894" width="1" height="1"/><rect x="780" y="894" width="1" height="1"/><rect x="783" y="894" width="1" height="1"/><rect x="786" y="894" width="1" height="1"/><rect x="789" y="894" width="1" height="1"/><rect x="792" y="894" width="1" height="1"/><rect x="795" y="894" width="1" height="1"/><rect x="798" y="894" width="1" height="1"/><rect x="801" y="894" width="1" height="1"/><rect x="804" y="894" width="1" height="1"/><rect x="807" y="894" width="1" height="1"/><rect x="810" y="894" width="1" height="1"/><rect x="813" y="894" width="1" height="1"/><rect x="816" y="894" width="1" height="1"/><rect x="819" y="894" width="1" height="1"/><rect x="822" y="894" width="1" height="1"/><rect x="825" y="894" width="1" height="1"/><rect x="828" y="894" width="1" height="1"/><rect x="831" y="894" width="1" height="1"/><rect x="834" y="894" width="1" height="1"/><rect x="837" y="894" width="1" height="1"/><rect x="840" y="894" width="1" height="1"/><rect x="843" y="894" width="1" height="1"/><rect x="846" y="894" width="1" height="1"/><rect x="849" y="894" width="1" height="1"/><rect x="852" y="894" width="1" height="1"/><rect x="855" y="894" width="1" height="1"/><rect x="858" y="894" width="1" height="1"/><rect x="861" y="894" width="1" height="1"/><rect x="864" y="894" width="1" height="1"/><rect x="867" y="894" width="1" height="1"/><rect x="870" y="894" width="1" height="1"/><rect x="873" y="894" width="1" height="1"/><rect x="876" y="894" width="1" height="1"/><rect x="879" y="894" width="1" height="1"/><rect x="882" y="894" width="1" height="1"/><rect x="885" y="894" width="1" height="1"/><rect x="888" y="894" width="1" height="1"/><rect x="891" y="894" width="1" height="1"/><rect x="894" y="894" width="1" height="1"/><rect x="897" y="894" width="1" height="1"/><rect x="900" y="894" width="1" height="1"/><rect x="903" y="894" width="1" height="1"/><rect x="906" y="894" width="1" height="1"/><rect x="909" y="894" width="1" height="1"/><rect x="912" y="894" width="1" height="1"/><rect x="915" y="894" width="1" height="1"/><rect x="918" y="894" width="1" height="1"/><rect x="921" y="894" width="1" height="1"/><rect x="924" y="894" width="1" height="1"/><rect x="927" y="894" width="1" height="1"/><rect x="930" y="894" width="1" height="1"/><rect x="933" y="894" width="1" height="1"/><rect x="936" y="894" width="1" height="1"/><rect x="939" y="894" width="1" height="1"/><rect x="942" y="894" width="1" height="1"/><rect x="945" y="894" width="1" height="1"/><rect x="948" y="894" width="1" height="1"/><rect x="951" y="894" width="1" height="1"/><rect x="954" y="894" width="1" height="1"/><rect x="957" y="894" width="1" height="1"/><rect x="960" y="894" width="1" height="1"/><rect x="963" y="894" width="1" height="1"/><rect x="966" y="894" width="1" height="1"/><rect x="969" y="894" width="1" height="1"/><rect x="972" y="894" width="1" height="1"/><rect x="975" y="894" width="1" height="1"/><rect x="978" y="894" width="1" height="1"/><rect x="981" y="894" width="1" height="1"/><rect x="984" y="894" width="1" height="1"/><rect x="987" y="894" width="1" height="1"/><rect x="990" y="894" width="1" height="1"/><rect x="993" y="894" width="1" height="1"/><rect x="996" y="894" width="1" height="1"/><rect x="999" y="894" width="1" height="1"/><rect x="1002" y="894" width="1" height="1"/><rect x="1005" y="894" width="1" height="1"/><rect x="1008" y="894" width="1" height="1"/><rect x="1011" y="894" width="1" height="1"/><rect x="1014" y="894" width="1" height="1"/><rect x="1017" y="894" width="1" height="1"/><rect x="1020" y="894" width="1" height="1"/><rect x="1023" y="894" width="1" height="1"/><rect x="1026" y="894" width="1" height="1"/><rect x="1029" y="894" width="1" height="1"/><rect x="1032" y="894" width="1" height="1"/><rect x="1035" y="894" width="1" height="1"/><rect x="1038" y="894" width="1" height="1"/><rect x="1041" y="894" width="1" height="1"/><rect x="1044" y="894" width="1" height="1"/><rect x="1047" y="894" width="1" height="1"/><rect x="1050" y="894" width="1" height="1"/><rect x="1053" y="894" width="1" height="1"/><rect x="1056" y="894" width="1" height="1"/><rect x="1059" y="894" width="1" height="1"/><rect x="1062" y="894" width="1" height="1"/><rect x="1065" y="894" width="1" height="1"/><rect x="1068" y="894" width="1" height="1"/><rect x="1071" y="894" width="1" height="1"/><rect x="1074" y="894" width="1" height="1"/><rect x="1077" y="894" width="1" height="1"/><rect x="1080" y="894" width="1" height="1"/><rect x="1083" y="894" width="1" height="1"/><rect x="1086" y="894" width="1" height="1"/><rect x="1089" y="894" width="1" height="1"/><rect x="1092" y="894" width="1" height="1"/><rect x="1095" y="894" width="1" height="1"/><rect x="1098" y="894" width="1" height="1"/><rect x="1101" y="894" width="1" height="1"/><rect x="1104" y="894" width="1" height="1"/><rect x="1107" y="894" width="1" height="1"/><rect x="1110" y="894" width="1" height="1"/><rect x="1113" y="894" width="1" height="1"/><rect x="1116" y="894" width="1" height="1"/><rect x="1119" y="894" width="1" height="1"/><rect x="1122" y="894" width="1" height="1"/><rect x="1125" y="894" width="1" height="1"/><rect x="1128" y="894" width="1" height="1"/><rect x="1131" y="894" width="1" height="1"/><rect x="1134" y="894" width="1" height="1"/><rect x="1137" y="894" width="1" height="1"/><rect x="1140" y="894" width="1" height="1"/><rect x="1143" y="894" width="1" height="1"/><rect x="1146" y="894" width="1" height="1"/><rect x="1149" y="894" width="1" height="1"/><rect x="1152" y="894" width="1" height="1"/><rect x="1155" y="894" width="1" height="1"/><rect x="1158" y="894" width="1" height="1"/><rect x="1161" y="894" width="1" height="1"/><rect x="1164" y="894" width="1" height="1"/><rect x="1167" y="894" width="1" height="1"/><rect x="1170" y="894" width="1" height="1"/><rect x="1173" y="894" width="1" height="1"/><rect x="1176" y="894" width="1" height="1"/><rect x="1179" y="894" width="1" height="1"/><rect x="1182" y="894" width="1" height="1"/><rect x="1185" y="894" width="1" height="1"/><rect x="1188" y="894" width="1" height="1"/><rect x="1191" y="894" width="1" height="1"/><rect x="1194" y="894" width="1" height="1"/><rect x="1197" y="894" width="1" height="1"/><rect x="1200" y="894" width="1" height="1"/><rect x="1203" y="894" width="1" height="1"/><rect x="1206" y="894" width="1" height="1"/><rect x="1209" y="894" width="1" height="1"/><rect x="1212" y="894" width="1" height="1"/><rect x="1215" y="894" width="1" height="1"/><rect x="1218" y="894" width="1" height="1"/><rect x="1221" y="894" width="1" height="1"/><rect x="1224" y="894" width="1" height="1"/><rect x="1227" y="894" width="1" height="1"/><rect x="1230" y="894" width="1" height="1"/><rect x="1233" y="894" width="1" height="1"/><rect x="1236" y="894" width="1" height="1"/><rect x="1239" y="894" width="1" height="1"/><rect x="1242" y="894" width="1" height="1"/><rect x="1245" y="894" width="1" height="1"/><rect x="1248" y="894" width="1" height="1"/><rect x="1251" y="894" width="1" height="1"/><rect x="1254" y="894" width="1" height="1"/><rect x="1257" y="894" width="1" height="1"/><rect x="1260" y="894" width="1" height="1"/><rect x="1263" y="894" width="1" height="1"/><rect x="1266" y="894" width="1" height="1"/><rect x="1269" y="894" width="1" height="1"/><rect x="1272" y="894" width="1" height="1"/><rect x="1275" y="894" width="1" height="1"/><rect x="1278" y="894" width="1" height="1"/><rect x="1281" y="894" width="1" height="1"/><rect x="1284" y="894" width="1" height="1"/><rect x="1287" y="894" width="1" height="1"/><rect x="1290" y="894" width="1" height="1"/><rect x="1293" y="894" width="1" height="1"/><rect x="1296" y="894" width="1" height="1"/><rect x="1299" y="894" width="1" height="1"/><rect x="1302" y="894" width="1" height="1"/><rect x="1305" y="894" width="1" height="1"/><rect x="1308" y="894" width="1" height="1"/><rect x="1311" y="894" width="1" height="1"/><rect x="1314" y="894" width="1" height="1"/><rect x="1317" y="894" width="1" height="1"/><rect x="1320" y="894" width="1" height="1"/><rect x="1323" y="894" width="1" height="1"/><rect x="1326" y="894" width="1" height="1"/><rect x="1329" y="894" width="1" height="1"/><rect x="1332" y="894" width="1" height="1"/><rect x="1335" y="894" width="1" height="1"/><rect x="1338" y="894" width="1" height="1"/><rect x="1341" y="894" width="1" height="1"/><rect x="1344" y="894" width="1" height="1"/><rect x="1347" y="894" width="1" height="1"/><rect x="1350" y="894" width="1" height="1"/><rect x="1353" y="894" width="1" height="1"/><rect x="1356" y="894" width="1" height="1"/><rect x="1359" y="894" width="1" height="1"/><rect x="1362" y="894" width="1" height="1"/><rect x="1365" y="894" width="1" height="1"/><rect x="1368" y="894" width="1" height="1"/><rect x="1371" y="894" width="1" height="1"/><rect x="1374" y="894" width="1" height="1"/><rect x="1377" y="894" width="1" height="1"/><rect x="1380" y="894" width="1" height="1"/><rect x="1383" y="894" width="1" height="1"/><rect x="1386" y="894" width="1" height="1"/><rect x="1389" y="894" width="1" height="1"/><rect x="1392" y="894" width="1" height="1"/><rect x="1395" y="894" width="1" height="1"/><rect x="1398" y="894" width="1" height="1"/><rect x="1401" y="894" width="1" height="1"/><rect x="1404" y="894" width="1" height="1"/><rect x="1407" y="894" width="1" height="1"/><rect x="1410" y="894" width="1" height="1"/><rect x="1413" y="894" width="1" height="1"/><rect x="1416" y="894" width="1" height="1"/><rect x="1419" y="894" width="1" height="1"/><rect x="1422" y="894" width="1" height="1"/><rect x="1425" y="894" width="1" height="1"/><rect x="1428" y="894" width="1" height="1"/><rect x="1431" y="894" width="1" height="1"/><rect x="1434" y="894" width="1" height="1"/><rect x="1437" y="894" width="1" height="1"/><rect x="1440" y="894" width="1" height="1"/><rect x="1443" y="894" width="1" height="1"/><rect x="1446" y="894" width="1" height="1"/><rect x="1449" y="894" width="1" height="1"/><rect x="1452" y="894" width="1" height="1"/><rect x="1455" y="894" width="1" height="1"/><rect x="1458" y="894" width="1" height="1"/><rect x="1461" y="894" width="1" height="1"/><rect x="1464" y="894" width="1" height="1"/><rect x="1467" y="894" width="1" height="1"/><rect x="1470" y="894" width="1" height="1"/><rect x="1473" y="894" width="1" height="1"/><rect x="1476" y="894" width="1" height="1"/><rect x="1479" y="894" width="1" height="1"/><rect x="1482" y="894" width="1" height="1"/><rect x="1485" y="894" width="1" height="1"/><rect x="1488" y="894" width="1" height="1"/><rect x="1491" y="894" width="1" height="1"/><rect x="1494" y="894" width="1" height="1"/><rect x="1497" y="894" width="1" height="1"/><rect x="1500" y="894" width="1" height="1"/><rect x="1503" y="894" width="1" height="1"/><rect x="1506" y="894" width="1" height="1"/><rect x="1509" y="894" width="1" height="1"/><rect x="1512" y="894" width="1" height="1"/><rect x="1515" y="894" width="1" height="1"/><rect x="1518" y="894" width="1" height="1"/><rect x="1521" y="894" width="1" height="1"/><rect x="1524" y="894" width="1" height="1"/><rect x="1527" y="894" width="1" height="1"/><rect x="1530" y="894" width="1" height="1"/><rect x="1533" y="894" width="1" height="1"/><rect x="1536" y="894" width="1" height="1"/><rect x="1539" y="894" width="1" height="1"/><rect x="1542" y="894" width="1" height="1"/><rect x="1545" y="894" width="1" height="1"/><rect x="1548" y="894" width="1" height="1"/><rect x="1551" y="894" width="1" height="1"/><rect x="1554" y="894" width="1" height="1"/><rect x="1557" y="894" width="1" height="1"/><rect x="1560" y="894" width="1" height="1"/><rect x="1563" y="894" width="1" height="1"/><rect x="1566" y="894" width="1" height="1"/><rect x="1569" y="894" width="1" height="1"/><rect x="1572" y="894" width="1" height="1"/><rect x="1575" y="894" width="1" height="1"/><rect x="1578" y="894" width="1" height="1"/><rect x="1581" y="894" width="1" height="1"/><rect x="1584" y="894" width="1" height="1"/><rect x="1587" y="894" width="1" height="1"/><rect x="1590" y="894" width="1" height="1"/><rect x="1593" y="894" width="1" height="1"/><rect x="1596" y="894" width="1" height="1"/><rect x="1599" y="894" width="1" height="1"/><rect x="1602" y="894" width="1" height="1"/><rect x="1605" y="894" width="1" height="1"/><rect x="1608" y="894" width="1" height="1"/><rect x="1611" y="894" width="1" height="1"/><rect x="1614" y="894" width="1" height="1"/><rect x="1617" y="894" width="1" height="1"/><rect x="1620" y="894" width="1" height="1"/><rect x="1623" y="894" width="1" height="1"/><rect x="1626" y="894" width="1" height="1"/><rect x="1629" y="894" width="1" height="1"/><rect x="1632" y="894" width="1" height="1"/><rect x="1635" y="894" width="1" height="1"/><rect x="1638" y="894" width="1" height="1"/><rect x="1641" y="894" width="1" height="1"/><rect x="1644" y="894" width="1" height="1"/><rect x="1647" y="894" width="1" height="1"/><rect x="1650" y="894" width="1" height="1"/><rect x="1653" y="894" width="1" height="1"/><rect x="1656" y="894" width="1" height="1"/><rect x="1659" y="894" width="1" height="1"/><rect x="1662" y="894" width="1" height="1"/><rect x="1665" y="894" width="1" height="1"/><rect x="1668" y="894" width="1" height="1"/><rect x="1671" y="894" width="1" height="1"/><rect x="1674" y="894" width="1" height="1"/><rect x="1677" y="894" width="1" height="1"/><rect x="1680" y="894" width="1" height="1"/><rect x="1683" y="894" width="1" height="1"/><rect x="1686" y="894" width="1" height="1"/><rect x="1689" y="894" width="1" height="1"/><rect x="1692" y="894" width="1" height="1"/><rect x="1695" y="894" width="1" height="1"/><rect x="1698" y="894" width="1" height="1"/><rect x="1701" y="894" width="1" height="1"/><rect x="1704" y="894" width="1" height="1"/><rect x="1707" y="894" width="1" height="1"/><rect x="1710" y="894" width="1" height="1"/><rect x="1713" y="894" width="1" height="1"/><rect x="1716" y="894" width="1" height="1"/><rect x="1719" y="894" width="1" height="1"/><rect x="1722" y="894" width="1" height="1"/><rect x="1725" y="894" width="1" height="1"/><rect x="1728" y="894" width="1" height="1"/><rect x="1731" y="894" width="1" height="1"/><rect x="1734" y="894" width="1" height="1"/><rect x="1737" y="894" width="1" height="1"/><rect x="1740" y="894" width="1" height="1"/><rect x="1743" y="894" width="1" height="1"/><rect x="1746" y="894" width="1" height="1"/><rect x="1749" y="894" width="1" height="1"/><rect x="1752" y="894" width="1" height="1"/><rect x="1755" y="894" width="1" height="1"/><rect x="1758" y="894" width="1" height="1"/><rect x="1761" y="894" width="1" height="1"/><rect x="1764" y="894" width="1" height="1"/><rect x="1767" y="894" width="1" height="1"/><rect x="1770" y="894" width="1" height="1"/><rect x="1773" y="894" width="1" height="1"/><rect x="1776" y="894" width="1" height="1"/><rect x="1779" y="894" width="1" height="1"/><rect x="1782" y="894" width="1" height="1"/><rect x="1785" y="894" width="1" height="1"/><rect x="1788" y="894" width="1" height="1"/><rect x="1791" y="894" width="1" height="1"/><rect x="1794" y="894" width="1" height="1"/><rect x="1797" y="894" width="1" height="1"/><rect x="1800" y="894" width="1" height="1"/><rect x="1803" y="894" width="1" height="1"/><rect x="1806" y="894" width="1" height="1"/><rect x="1809" y="894" width="1" height="1"/><rect x="1812" y="894" width="1" height="1"/><rect x="1815" y="894" width="1" height="1"/><rect x="1818" y="894" width="1" height="1"/><rect x="1821" y="894" width="1" height="1"/><rect x="1824" y="894" width="1" height="1"/><rect x="1827" y="894" width="1" height="1"/><rect x="1830" y="894" width="1" height="1"/><rect x="1833" y="894" width="1" height="1"/><rect x="1836" y="894" width="1" height="1"/><rect x="1839" y="894" width="1" height="1"/><rect x="1842" y="894" width="1" height="1"/><rect x="1845" y="894" width="1" height="1"/><rect x="1848" y="894" width="1" height="1"/><rect x="1851" y="894" width="1" height="1"/><rect x="1854" y="894" width="1" height="1"/><rect x="1857" y="894" width="1" height="1"/><rect x="1860" y="894" width="1" height="1"/><rect x="1863" y="894" width="1" height="1"/><rect x="1866" y="894" width="1" height="1"/><rect x="1869" y="894" width="1" height="1"/><rect x="1872" y="894" width="1" height="1"/><rect x="1875" y="894" width="1" height="1"/><rect x="1878" y="894" width="1" height="1"/><rect x="1881" y="894" width="1" height="1"/><rect x="1884" y="894" width="1" height="1"/><rect x="1887" y="894" width="1" height="1"/><rect x="1890" y="894" width="1" height="1"/><rect x="1893" y="894" width="1" height="1"/><rect x="1896" y="894" width="1" height="1"/><rect x="1899" y="894" width="1" height="1"/><rect x="1902" y="894" width="1" height="1"/><rect x="1905" y="894" width="1" height="1"/><rect x="1908" y="894" width="1" height="1"/><rect x="1911" y="894" width="1" height="1"/><rect x="1914" y="894" width="1" height="1"/><rect x="1917" y="894" width="1" height="1"/><rect x="1920" y="894" width="1" height="1"/><rect x="1923" y="894" width="1" height="1"/><rect x="1926" y="894" width="1" height="1"/><rect x="1929" y="894" width="1" height="1"/><rect x="1932" y="894" width="1" height="1"/><rect x="1935" y="894" width="1" height="1"/><rect x="1938" y="894" width="1" height="1"/><rect x="1941" y="894" width="1" height="1"/><rect x="1944" y="894" width="1" height="1"/><rect x="1947" y="894" width="1" height="1"/><rect x="1950" y="894" width="1" height="1"/><rect x="1953" y="894" width="1" height="1"/><rect x="1956" y="894" width="1" height="1"/><rect x="1959" y="894" width="1" height="1"/><rect x="1962" y="894" width="1" height="1"/><rect x="1965" y="894" width="1" height="1"/><rect x="1968" y="894" width="1" height="1"/><rect x="1971" y="894" width="1" height="1"/><rect x="1974" y="894" width="1" height="1"/><rect x="1977" y="894" width="1" height="1"/><rect x="1980" y="894" width="1" height="1"/><rect x="1983" y="894" width="1" height="1"/><rect x="1986" y="894" width="1" height="1"/><rect x="1989" y="894" width="1" height="1"/><rect x="1992" y="894" width="1" height="1"/><rect x="1995" y="894" width="1" height="1"/><rect x="1998" y="894" width="1" height="1"/><rect x="2001" y="894" width="1" height="1"/><rect x="2004" y="894" width="1" height="1"/><rect x="2007" y="894" width="1" height="1"/><rect x="2010" y="894" width="1" height="1"/><rect x="2013" y="894" width="1" height="1"/><rect x="2016" y="894" width="1" height="1"/><rect x="2019" y="894" width="1" height="1"/><rect x="2022" y="894" width="1" height="1"/><rect x="2025" y="894" width="1" height="1"/><rect x="2028" y="894" width="1" height="1"/><rect x="2031" y="894" width="1" height="1"/><rect x="2034" y="894" width="1" height="1"/><rect x="2037" y="894" width="1" height="1"/><rect x="2040" y="894" width="1" height="1"/><rect x="2043" y="894" width="1" height="1"/><rect x="2046" y="894" width="1" height="1"/><rect x="2049" y="894" width="1" height="1"/><rect x="2052" y="894" width="1" height="1"/><rect x="2055" y="894" width="1" height="1"/><rect x="2058" y="894" width="1" height="1"/><rect x="2061" y="894" width="1" height="1"/><rect x="2064" y="894" width="1" height="1"/><rect x="2067" y="894" width="1" height="1"/><rect x="2070" y="894" width="1" height="1"/><rect x="2073" y="894" width="1" height="1"/><rect x="2076" y="894" width="1" height="1"/><rect x="2079" y="894" width="1" height="1"/><rect x="2082" y="894" width="1" height="1"/><rect x="2085" y="894" width="1" height="1"/><rect x="2088" y="894" width="1" height="1"/><rect x="2091" y="894" width="1" height="1"/><rect x="2094" y="894" width="1" height="1"/><rect x="2097" y="894" width="1" height="1"/><rect x="2100" y="894" width="1" height="1"/><rect x="2103" y="894" width="1" height="1"/><rect x="2106" y="894" width="1" height="1"/><rect x="2109" y="894" width="1" height="1"/><rect x="2112" y="894" width="1" height="1"/><rect x="2115" y="894" width="1" height="1"/><rect x="2118" y="894" width="1" height="1"/><rect x="2121" y="894" width="1" height="1"/><rect x="2124" y="894" width="1" height="1"/><rect x="2127" y="894" width="1" height="1"/><rect x="2130" y="894" width="1" height="1"/><rect x="2133" y="894" width="1" height="1"/><rect x="2136" y="894" width="1" height="1"/><rect x="2139" y="894" width="1" height="1"/><rect x="2142" y="894" width="1" height="1"/><rect x="2145" y="894" width="1" height="1"/><rect x="2148" y="894" width="1" height="1"/><rect x="2151" y="894" width="1" height="1"/><rect x="2154" y="894" width="1" height="1"/><rect x="2157" y="894" width="1" height="1"/><rect x="2160" y="894" width="1" height="1"/><rect x="2163" y="894" width="1" height="1"/><rect x="2166" y="894" width="1" height="1"/><rect x="2169" y="894" width="1" height="1"/><rect x="2172" y="894" width="1" height="1"/><rect x="2175" y="894" width="1" height="1"/><rect x="2178" y="894" width="1" height="1"/><rect x="2181" y="894" width="1" height="1"/><rect x="2184" y="894" width="1" height="1"/><rect x="2187" y="894" width="1" height="1"/><rect x="2190" y="894" width="1" height="1"/><rect x="2193" y="894" width="1" height="1"/><rect x="2196" y="894" width="1" height="1"/><rect x="2199" y="894" width="1" height="1"/><rect x="2202" y="894" width="1" height="1"/><rect x="2205" y="894" width="1" height="1"/><rect x="2208" y="894" width="1" height="1"/><rect x="2211" y="894" width="1" height="1"/><rect x="2214" y="894" width="1" height="1"/><rect x="2217" y="894" width="1" height="1"/><rect x="2220" y="894" width="1" height="1"/><rect x="2223" y="894" width="1" height="1"/><rect x="2226" y="894" width="1" height="1"/><rect x="2229" y="894" width="1" height="1"/><rect x="2232" y="894" width="1" height="1"/><rect x="2235" y="894" width="1" height="1"/><rect x="2238" y="894" width="1" height="1"/><rect x="2241" y="894" width="1" height="1"/><rect x="2244" y="894" width="1" height="1"/><rect x="2247" y="894" width="1" height="1"/><rect x="2250" y="894" width="1" height="1"/><rect x="2253" y="894" width="1" height="1"/><rect x="2256" y="894" width="1" height="1"/><rect x="2259" y="894" width="1" height="1"/><rect x="2262" y="894" width="1" height="1"/><rect x="2265" y="894" width="1" height="1"/><rect x="2268" y="894" width="1" height="1"/><rect x="2271" y="894" width="1" height="1"/><rect x="2274" y="894" width="1" height="1"/><rect x="2277" y="894" width="1" height="1"/><rect x="2280" y="894" width="1" height="1"/><rect x="2283" y="894" width="1" height="1"/><rect x="2286" y="894" width="1" height="1"/><rect x="2289" y="894" width="1" height="1"/><rect x="2292" y="894" width="1" height="1"/><rect x="2295" y="894" width="1" height="1"/><rect x="2298" y="894" width="1" height="1"/><rect x="2301" y="894" width="1" height="1"/><rect x="2304" y="894" width="1" height="1"/><rect x="2307" y="894" width="1" height="1"/><rect x="2310" y="894" width="1" height="1"/><rect x="2313" y="894" width="1" height="1"/><rect x="2316" y="894" width="1" height="1"/><rect x="2319" y="894" width="1" height="1"/><rect x="2322" y="894" width="1" height="1"/><rect x="2325" y="894" width="1" height="1"/><rect x="2328" y="894" width="1" height="1"/><rect x="2331" y="894" width="1" height="1"/><rect x="2334" y="894" width="1" height="1"/><rect x="2337" y="894" width="1" height="1"/><rect x="2340" y="894" width="1" height="1"/><rect x="2343" y="894" width="1" height="1"/><rect x="2346" y="894" width="1" height="1"/><rect x="2349" y="894" width="1" height="1"/><rect x="2352" y="894" width="1" height="1"/><rect x="2355" y="894" width="1" height="1"/><rect x="2358" y="894" width="1" height="1"/><rect x="2361" y="894" width="1" height="1"/><rect x="2364" y="894" width="1" height="1"/><rect x="2367" y="894" width="1" height="1"/><rect x="2370" y="894" width="1" height="1"/><rect x="2373" y="894" width="1" height="1"/><rect x="2376" y="894" width="1" height="1"/><rect x="2379" y="894" width="1" height="1"/><rect x="2382" y="894" width="1" height="1"/><rect x="2385" y="894" width="1" height="1"/><rect x="2388" y="894" width="1" height="1"/><rect x="2391" y="894" width="1" height="1"/><rect x="2394" y="894" width="1" height="1"/><rect x="2397" y="894" width="1" height="1"/><rect x="2400" y="894" width="1" height="1"/><rect x="2403" y="894" width="1" height="1"/><rect x="2406" y="894" width="1" height="1"/><rect x="2409" y="894" width="1" height="1"/><rect x="2412" y="894" width="1" height="1"/><rect x="2415" y="894" width="1" height="1"/><rect x="2418" y="894" width="1" height="1"/><rect x="2421" y="894" width="1" height="1"/><rect x="2424" y="894" width="1" height="1"/><rect x="2427" y="894" width="1" height="1"/><rect x="2430" y="894" width="1" height="1"/><rect x="2433" y="894" width="1" height="1"/><rect x="2436" y="894" width="1" height="1"/><rect x="2439" y="894" width="1" height="1"/><rect x="2442" y="894" width="1" height="1"/><rect x="2445" y="894" width="1" height="1"/><rect x="2448" y="894" width="1" height="1"/><rect x="2451" y="894" width="1" height="1"/><rect x="2454" y="894" width="1" height="1"/><rect x="2457" y="894" width="1" height="1"/><rect x="2460" y="894" width="1" height="1"/><rect x="2463" y="894" width="1" height="1"/><rect x="2466" y="894" width="1" height="1"/><rect x="2469" y="894" width="1" height="1"/><rect x="2472" y="894" width="1" height="1"/><rect x="2475" y="894" width="1" height="1"/><rect x="2478" y="894" width="1" height="1"/><rect x="2481" y="894" width="1" height="1"/><rect x="2484" y="894" width="1" height="1"/><rect x="2487" y="894" width="1" height="1"/><rect x="2490" y="894" width="1" height="1"/><rect x="2493" y="894" width="1" height="1"/><rect x="2496" y="894" width="1" height="1"/><rect x="2499" y="894" width="1" height="1"/><rect x="2502" y="894" width="1" height="1"/></g>
</g>
<text x="15.81" y="32.00" font-size="19.2" fill="#131722" stroke="#131722" stroke-width="0.3" textLength="130.77" lengthAdjust="spacing">kanguhalubale</text>
<text x="152.86" y="32.00" font-size="19.2" fill="#131722" stroke="#131722" stroke-width="0.3" textLength="68.58" lengthAdjust="spacing">created</text>
<text x="227.04" y="32.00" font-size="19.2" fill="#131722" stroke="#131722" stroke-width="0.3" textLength="37.67" lengthAdjust="spacing">with</text>
<text x="270.49" y="32.00" font-size="19.2" fill="#131722" stroke="#131722" stroke-width="0.3" textLength="159.41" lengthAdjust="spacing">TradingView.com,</text>
<text x="435.45" y="32.00" font-size="19.2" fill="#131722" stroke="#131722" stroke-width="0.3" textLength="34.01" lengthAdjust="spacing">Mar</text>
<text x="475.85" y="32.00" font-size="19.2" fill="#131722" stroke="#131722" stroke-width="0.3" textLength="28.90" lengthAdjust="spacing">04,</text>
<text x="511.04" y="32.00" font-size="19.2" fill="#131722" stroke="#131722" stroke-width="0.3" textLength="46.50" lengthAdjust="spacing">2026</text>
<text x="563.23" y="32.00" font-size="19.2" fill="#131722" stroke="#131722" stroke-width="0.3" textLength="49.69" lengthAdjust="spacing">15:20</text>
<text x="619.39" y="32.00" font-size="19.2" fill="#131722" stroke="#131722" stroke-width="0.3" textLength="38.88" lengthAdjust="spacing">UTC</text>
<text x="28.38" y="74.90" font-size="19.2" fill="#131722" stroke="#131722" stroke-width="0.3" textLength="63.32" lengthAdjust="spacing">Bitcoin</text>
<text x="96.74" y="74.90" font-size="19.2" fill="#131722" stroke="#131722" stroke-width="0.3">/</text>
<text x="107.80" y="74.90" font-size="19.2" fill="#131722" stroke="#131722" stroke-width="0.3" textLength="37.62" lengthAdjust="spacing">U.S.</text>
<text x="150.21" y="74.90" font-size="19.2" fill="#131722" stroke="#131722" stroke-width="0.3" textLength="52.76" lengthAdjust="spacing">Dollar</text>
<text x="207.78" y="74.90" font-size="19.2" fill="#131722" stroke="#131722" stroke-width="0.3">·</text>
<text x="219.33" y="74.90" font-size="19.2" fill="#131722" stroke="#131722" stroke-width="0.3" textLength="23.50" lengthAdjust="spacing">1D</text>
<text x="247.41" y="74.90" font-size="19.2" fill="#131722" stroke="#131722" stroke-width="0.3">·</text>
<text x="259.26" y="74.90" font-size="19.2" fill="#131722" stroke="#131722" stroke-width="0.3" textLength="79.86" lengthAdjust="spacing">Bitstamp</text>
<text x="350.45" y="74.90" font-size="19.2" stroke-width="0.3" textLength="79.86" lengthAdjust="spacing"><tspan fill="#131722" stroke="#131722">O</tspan><tspan fill="#089981" stroke="#089981">68,336</tspan></text>
<text x="441.21" y="74.90" font-size="19.2" stroke-width="0.3" textLength="73.82" lengthAdjust="spacing"><tspan fill="#131722" stroke="#131722">H</tspan><tspan fill="#089981" stroke="#089981">72,621</tspan></text>
<text x="526.21" y="74.90" font-size="19.2" stroke-width="0.3" textLength="73.34" lengthAdjust="spacing"><tspan fill="#131722" stroke="#131722">L</tspan><tspan fill="#089981" stroke="#089981">67,405</tspan></text>
<text x="610.33" y="74.90" font-size="19.2" stroke-width="0.3" textLength="77.64" lengthAdjust="spacing"><tspan fill="#131722" stroke="#131722">C</tspan><tspan fill="#089981" stroke="#089981">72,466</tspan></text>
<text x="699.26" y="74.90" font-size="19.2" fill="#089981" stroke="#089981" stroke-width="0.3" textLength="61.34" lengthAdjust="spacing">+4,130</text>
<text x="767.34" y="74.90" font-size="19.2" fill="#089981" stroke="#089981" stroke-width="0.3" textLength="84.03" lengthAdjust="spacing">(+6.04%)</text>
<text x="2521.80" y="167.10" font-size="19.2" fill="#131722" stroke="#131722" stroke-width="0.3" textLength="75.80" lengthAdjust="spacing">120,000</text>
<text x="2521.80" y="228.10" font-size="19.2" fill="#131722" stroke="#131722" stroke-width="0.3" textLength="75.80" lengthAdjust="spacing">115,000</text>
<text x="2521.80" y="293.10" font-size="19.2" fill="#131722" stroke="#131722" stroke-width="0.3" textLength="75.80" lengthAdjust="spacing">110,000</text>
<text x="2521.80" y="361.10" font-size="19.2" fill="#131722" stroke="#131722" stroke-width="0.3" textLength="75.80" lengthAdjust="spacing">105,000</text>
<text x="2521.80" y="417.10" font-size="19.2" fill="#131722" stroke="#131722" stroke-width="0.3" textLength="75.80" lengthAdjust="spacing">101,000</text>
<text x="2520.60" y="476.10" font-size="19.2" fill="#131722" stroke="#131722" stroke-width="0.3" textLength="64.80" lengthAdjust="spacing">97,000</text>
<text x="2520.60" y="537.10" font-size="19.2" fill="#131722" stroke="#131722" stroke-width="0.3" textLength="64.80" lengthAdjust="spacing">93,000</text>
<text x="2520.60" y="601.10" font-size="19.2" fill="#131722" stroke="#131722" stroke-width="0.3" textLength="64.80" lengthAdjust="spacing">89,000</text>
<text x="2520.60" y="668.10" font-size="19.2" fill="#131722" stroke="#131722" stroke-width="0.3" textLength="64.80" lengthAdjust="spacing">85,000</text>
<text x="2520.60" y="738.10" font-size="19.2" fill="#131722" stroke="#131722" stroke-width="0.3" textLength="64.80" lengthAdjust="spacing">81,000</text>
<text x="2520.60" y="811.10" font-size="19.2" fill="#131722" stroke="#131722" stroke-width="0.3" textLength="64.80" lengthAdjust="spacing">77,000</text>
<text x="2520.60" y="869.10" font-size="19.2" fill="#131722" stroke="#131722" stroke-width="0.3" textLength="64.80" lengthAdjust="spacing">74,000</text>
<text x="2520.60" y="929.10" font-size="19.2" fill="#131722" stroke="#131722" stroke-width="0.3" textLength="64.80" lengthAdjust="spacing">71,000</text>
<text x="2520.60" y="992.10" font-size="19.2" fill="#131722" stroke="#131722" stroke-width="0.3" textLength="64.80" lengthAdjust="spacing">68,000</text>
<text x="2520.60" y="1057.10" font-size="19.2" fill="#131722" stroke="#131722" stroke-width="0.3" textLength="64.80" lengthAdjust="spacing">65,000</text>
<text x="2520.60" y="1114.10" font-size="19.2" fill="#131722" stroke="#131722" stroke-width="0.3" textLength="64.80" lengthAdjust="spacing">62,500</text>
<text x="2520.60" y="1171.10" font-size="19.2" fill="#131722" stroke="#131722" stroke-width="0.3" textLength="64.80" lengthAdjust="spacing">60,100</text>
<text x="2520.60" y="1220.10" font-size="19.2" fill="#131722" stroke="#131722" stroke-width="0.3" textLength="64.80" lengthAdjust="spacing">58,100</text>
<text x="2520.60" y="1271.10" font-size="19.2" fill="#131722" stroke="#131722" stroke-width="0.3" textLength="64.80" lengthAdjust="spacing">56,100</text>
<rect x="2512" y="49.25" width="104" height="41" rx="6" fill="#fff" stroke="#f0f0f2" stroke-width="1.5"/>
<text x="2526.20" y="75.40" font-size="18" fill="#131722" stroke="#131722" stroke-width="0.3" textLength="39.50" lengthAdjust="spacing">USD</text>
<path d="M2507 881H2609.5a3 3 0 0 1 3 3V926.7a3 3 0 0 1 -3 3H2507Z" fill="#089981"/>
<text x="2520.60" y="900.20" font-size="19.2" fill="#fff" stroke="#fff" stroke-width="0" textLength="65.20" lengthAdjust="spacing">72,466</text>
<text x="2520.20" y="922.30" font-size="19.2" fill="rgba(255,255,255,0.78)" stroke="rgba(255,255,255,0.78)" stroke-width="0" textLength="83.20" lengthAdjust="spacing">08:39:12</text>
<text x="78.90" y="1344.4" font-size="19.3" fill="#131722" stroke="#131722" stroke-width="0.3" text-anchor="middle">May</text>
<text x="298.90" y="1344.4" font-size="19.3" fill="#131722" stroke="#131722" stroke-width="0.3" text-anchor="middle">Jun</text>
<text x="512.90" y="1344.4" font-size="19.3" fill="#131722" stroke="#131722" stroke-width="0.3" text-anchor="middle">Jul</text>
<text x="732.90" y="1344.4" font-size="19.3" fill="#131722" stroke="#131722" stroke-width="0.3" text-anchor="middle">Aug</text>
<text x="953.90" y="1344.4" font-size="19.3" fill="#131722" stroke="#131722" stroke-width="0.3" text-anchor="middle">Sep</text>
<text x="1166.90" y="1344.4" font-size="19.3" fill="#131722" stroke="#131722" stroke-width="0.3" text-anchor="middle">Oct</text>
<text x="1386.90" y="1344.4" font-size="19.3" fill="#131722" stroke="#131722" stroke-width="0.3" text-anchor="middle">Nov</text>
<text x="1600.90" y="1344.4" font-size="19.3" fill="#131722" stroke="#131722" stroke-width="0.3" text-anchor="middle">Dec</text>
<text x="1795.4" y="1344.4" font-size="19.3" fill="#131722" font-weight="bold" textLength="52" lengthAdjust="spacing">2026</text>
<text x="2041.90" y="1344.4" font-size="19.3" fill="#131722" stroke="#131722" stroke-width="0.3" text-anchor="middle">Feb</text>
<text x="2240.90" y="1344.4" font-size="19.3" fill="#131722" stroke="#131722" stroke-width="0.3" text-anchor="middle">Mar</text>
<text x="2460.90" y="1344.4" font-size="19.3" fill="#131722" stroke="#131722" stroke-width="0.3" text-anchor="middle">Apr</text>
<g>
<rect x="2242.2" y="1262" width="37.5" height="8" fill="#fff"/>
<path d="M2277.21 1248.27A15.30 15.30 0 0 1 2253.03 1265.17M2247.94 1249.78A15.30 15.30 0 0 1 2267.78 1238.93" fill="none" stroke="#9C27B0" stroke-width="2.3"/>
<circle cx="2273.6" cy="1242.5" r="4" fill="#F23645"/>
<path d="M2245.60 1250.80Q2247.10 1257.60 2253.90 1259.10Q2247.10 1260.60 2245.60 1267.40Q2244.10 1260.60 2237.30 1259.10Q2244.10 1257.60 2245.60 1250.80Z" fill="#7C4DFF"/>
<path d="M2267 1244.9L2255.6 1254.6H2262.2L2257.6 1262L2269.3 1251.9H2262.9Z" fill="#9C27B0" stroke="#9C27B0" stroke-width="0.6" stroke-linejoin="round"/>
</g>
<g><circle cx="2306.10" cy="1293.50" r="17.1" fill="#fff"/><clipPath id="f2306"><circle cx="2306.50" cy="1293.50" r="12.8"/></clipPath><g clip-path="url(#f2306)"><rect x="2293.00" y="1280.70" width="27" height="26" fill="#f7f8fc"/><rect x="2293.00" y="1280.70" width="27" height="4.70" fill="#EF5350"/><rect x="2293.00" y="1290.30" width="27" height="5.70" fill="#EF5350"/><rect x="2293.00" y="1300.20" width="27" height="6.20" fill="#EF5350"/><rect x="2293.00" y="1280.70" width="16.20" height="15.30" fill="#1E88E5"/><path d="M2297.60 1282.20L2298.01 1283.23L2299.12 1283.31L2298.27 1284.02L2298.54 1285.09L2297.60 1284.50L2296.66 1285.09L2296.93 1284.02L2296.08 1283.31L2297.19 1283.23Z" fill="#fff"/><path d="M2301.80 1282.20L2302.21 1283.23L2303.32 1283.31L2302.47 1284.02L2302.74 1285.09L2301.80 1284.50L2300.86 1285.09L2301.13 1284.02L2300.28 1283.31L2301.39 1283.23Z" fill="#fff"/><path d="M2306.20 1282.20L2306.61 1283.23L2307.72 1283.31L2306.87 1284.02L2307.14 1285.09L2306.20 1284.50L2305.26 1285.09L2305.53 1284.02L2304.68 1283.31L2305.79 1283.23Z" fill="#fff"/><path d="M2297.60 1286.60L2298.01 1287.63L2299.12 1287.71L2298.27 1288.42L2298.54 1289.49L2297.60 1288.90L2296.66 1289.49L2296.93 1288.42L2296.08 1287.71L2297.19 1287.63Z" fill="#fff"/><path d="M2301.80 1286.60L2302.21 1287.63L2303.32 1287.71L2302.47 1288.42L2302.74 1289.49L2301.80 1288.90L2300.86 1289.49L2301.13 1288.42L2300.28 1287.71L2301.39 1287.63Z" fill="#fff"/><path d="M2306.20 1286.60L2306.61 1287.63L2307.72 1287.71L2306.87 1288.42L2307.14 1289.49L2306.20 1288.90L2305.26 1289.49L2305.53 1288.42L2304.68 1287.71L2305.79 1287.63Z" fill="#fff"/><path d="M2297.60 1291.10L2298.01 1292.13L2299.12 1292.21L2298.27 1292.92L2298.54 1293.99L2297.60 1293.40L2296.66 1293.99L2296.93 1292.92L2296.08 1292.21L2297.19 1292.13Z" fill="#fff"/><path d="M2301.80 1291.10L2302.21 1292.13L2303.32 1292.21L2302.47 1292.92L2302.74 1293.99L2301.80 1293.40L2300.86 1293.99L2301.13 1292.92L2300.28 1292.21L2301.39 1292.13Z" fill="#fff"/><path d="M2306.20 1291.10L2306.61 1292.13L2307.72 1292.21L2306.87 1292.92L2307.14 1293.99L2306.20 1293.40L2305.26 1293.99L2305.53 1292.92L2304.68 1292.21L2305.79 1292.13Z" fill="#fff"/></g><circle cx="2306.10" cy="1293.50" r="15.95" fill="none" stroke="#F23645" stroke-width="2.3"/></g>
<g><circle cx="2276.10" cy="1293.50" r="17.1" fill="#fff"/><clipPath id="f2276"><circle cx="2276.50" cy="1293.50" r="12.8"/></clipPath><g clip-path="url(#f2276)"><rect x="2263.00" y="1280.70" width="27" height="26" fill="#f7f8fc"/><rect x="2263.00" y="1280.70" width="27" height="4.70" fill="#EF5350"/><rect x="2263.00" y="1290.30" width="27" height="5.70" fill="#EF5350"/><rect x="2263.00" y="1300.20" width="27" height="6.20" fill="#EF5350"/><rect x="2263.00" y="1280.70" width="16.20" height="15.30" fill="#1E88E5"/><path d="M2267.60 1282.20L2268.01 1283.23L2269.12 1283.31L2268.27 1284.02L2268.54 1285.09L2267.60 1284.50L2266.66 1285.09L2266.93 1284.02L2266.08 1283.31L2267.19 1283.23Z" fill="#fff"/><path d="M2271.80 1282.20L2272.21 1283.23L2273.32 1283.31L2272.47 1284.02L2272.74 1285.09L2271.80 1284.50L2270.86 1285.09L2271.13 1284.02L2270.28 1283.31L2271.39 1283.23Z" fill="#fff"/><path d="M2276.20 1282.20L2276.61 1283.23L2277.72 1283.31L2276.87 1284.02L2277.14 1285.09L2276.20 1284.50L2275.26 1285.09L2275.53 1284.02L2274.68 1283.31L2275.79 1283.23Z" fill="#fff"/><path d="M2267.60 1286.60L2268.01 1287.63L2269.12 1287.71L2268.27 1288.42L2268.54 1289.49L2267.60 1288.90L2266.66 1289.49L2266.93 1288.42L2266.08 1287.71L2267.19 1287.63Z" fill="#fff"/><path d="M2271.80 1286.60L2272.21 1287.63L2273.32 1287.71L2272.47 1288.42L2272.74 1289.49L2271.80 1288.90L2270.86 1289.49L2271.13 1288.42L2270.28 1287.71L2271.39 1287.63Z" fill="#fff"/><path d="M2276.20 1286.60L2276.61 1287.63L2277.72 1287.71L2276.87 1288.42L2277.14 1289.49L2276.20 1288.90L2275.26 1289.49L2275.53 1288.42L2274.68 1287.71L2275.79 1287.63Z" fill="#fff"/><path d="M2267.60 1291.10L2268.01 1292.13L2269.12 1292.21L2268.27 1292.92L2268.54 1293.99L2267.60 1293.40L2266.66 1293.99L2266.93 1292.92L2266.08 1292.21L2267.19 1292.13Z" fill="#fff"/><path d="M2271.80 1291.10L2272.21 1292.13L2273.32 1292.21L2272.47 1292.92L2272.74 1293.99L2271.80 1293.40L2270.86 1293.99L2271.13 1292.92L2270.28 1292.21L2271.39 1292.13Z" fill="#fff"/><path d="M2276.20 1291.10L2276.61 1292.13L2277.72 1292.21L2276.87 1292.92L2277.14 1293.99L2276.20 1293.40L2275.26 1293.99L2275.53 1292.92L2274.68 1292.21L2275.79 1292.13Z" fill="#fff"/></g><circle cx="2276.10" cy="1293.50" r="15.95" fill="none" stroke="#F23645" stroke-width="2.3"/></g>
<g><circle cx="2261.40" cy="1293.50" r="17.1" fill="#fff"/><clipPath id="f2261"><circle cx="2261.80" cy="1293.50" r="12.8"/></clipPath><g clip-path="url(#f2261)"><rect x="2248.30" y="1280.70" width="27" height="26" fill="#f7f8fc"/><rect x="2248.30" y="1280.70" width="27" height="4.70" fill="#EF5350"/><rect x="2248.30" y="1290.30" width="27" height="5.70" fill="#EF5350"/><rect x="2248.30" y="1300.20" width="27" height="6.20" fill="#EF5350"/><rect x="2248.30" y="1280.70" width="16.20" height="15.30" fill="#1E88E5"/><path d="M2252.90 1282.20L2253.31 1283.23L2254.42 1283.31L2253.57 1284.02L2253.84 1285.09L2252.90 1284.50L2251.96 1285.09L2252.23 1284.02L2251.38 1283.31L2252.49 1283.23Z" fill="#fff"/><path d="M2257.10 1282.20L2257.51 1283.23L2258.62 1283.31L2257.77 1284.02L2258.04 1285.09L2257.10 1284.50L2256.16 1285.09L2256.43 1284.02L2255.58 1283.31L2256.69 1283.23Z" fill="#fff"/><path d="M2261.50 1282.20L2261.91 1283.23L2263.02 1283.31L2262.17 1284.02L2262.44 1285.09L2261.50 1284.50L2260.56 1285.09L2260.83 1284.02L2259.98 1283.31L2261.09 1283.23Z" fill="#fff"/><path d="M2252.90 1286.60L2253.31 1287.63L2254.42 1287.71L2253.57 1288.42L2253.84 1289.49L2252.90 1288.90L2251.96 1289.49L2252.23 1288.42L2251.38 1287.71L2252.49 1287.63Z" fill="#fff"/><path d="M2257.10 1286.60L2257.51 1287.63L2258.62 1287.71L2257.77 1288.42L2258.04 1289.49L2257.10 1288.90L2256.16 1289.49L2256.43 1288.42L2255.58 1287.71L2256.69 1287.63Z" fill="#fff"/><path d="M2261.50 1286.60L2261.91 1287.63L2263.02 1287.71L2262.17 1288.42L2262.44 1289.49L2261.50 1288.90L2260.56 1289.49L2260.83 1288.42L2259.98 1287.71L2261.09 1287.63Z" fill="#fff"/><path d="M2252.90 1291.10L2253.31 1292.13L2254.42 1292.21L2253.57 1292.92L2253.84 1293.99L2252.90 1293.40L2251.96 1293.99L2252.23 1292.92L2251.38 1292.21L2252.49 1292.13Z" fill="#fff"/><path d="M2257.10 1291.10L2257.51 1292.13L2258.62 1292.21L2257.77 1292.92L2258.04 1293.99L2257.10 1293.40L2256.16 1293.99L2256.43 1292.92L2255.58 1292.21L2256.69 1292.13Z" fill="#fff"/><path d="M2261.50 1291.10L2261.91 1292.13L2263.02 1292.21L2262.17 1292.92L2262.44 1293.99L2261.50 1293.40L2260.56 1293.99L2260.83 1292.92L2259.98 1292.21L2261.09 1292.13Z" fill="#fff"/></g><circle cx="2261.40" cy="1293.50" r="15.95" fill="none" stroke="#F23645" stroke-width="2.3"/></g>
<g fill="#131313">
<path d="M19.2 1394.7H38.45V1418.8H28.95V1403.8H19.2Z"/>
<circle cx="46.3" cy="1399.5" r="4.65"/>
<path d="M55.8 1394.7H66.8L57.6 1418.8H46.7Z"/>
</g>
<text x="76.57 93.80 105.20 125.00 143.30 151.10 171.50 193.10 216.25 225.20 245.10" y="1418.8" font-size="34.2" font-weight="bold" fill="#131313">TradingView</text>
</svg></body></html>
